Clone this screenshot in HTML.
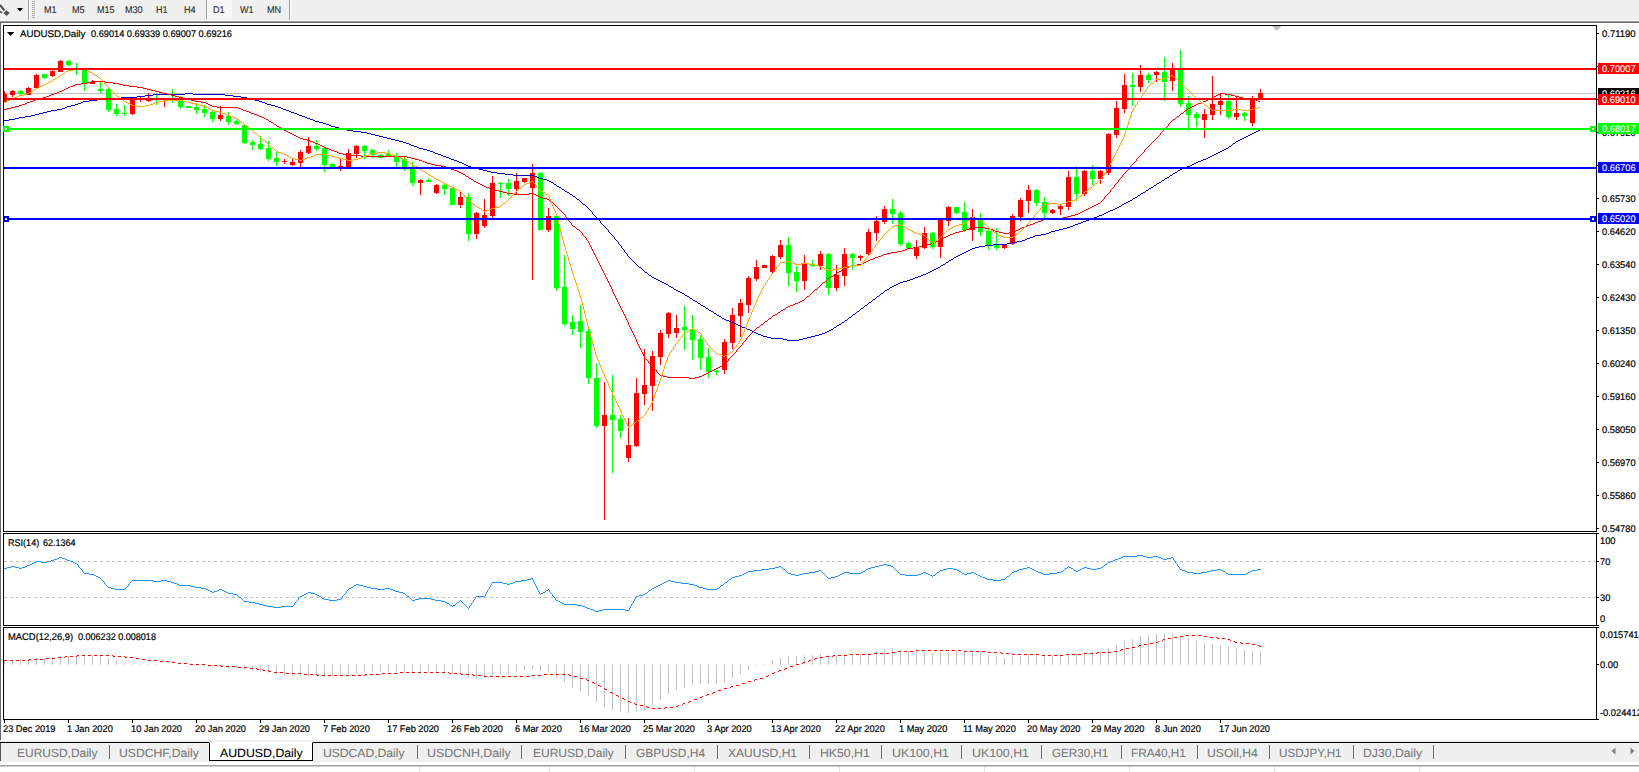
<!DOCTYPE html><html><head><meta charset="utf-8"><title>AUDUSD,Daily</title><style>
html,body{margin:0;padding:0}
body{text-rendering:geometricPrecision;width:1639px;height:772px;position:relative;overflow:hidden;background:#fff;font-family:"Liberation Sans",sans-serif;}
.t{position:absolute;white-space:pre;line-height:12px;height:12px;font-size:9.7px;color:#000;transform-origin:0 50%;-webkit-text-stroke:0.2px #000}
.tb{position:absolute;white-space:pre;line-height:12px;height:12px;font-size:9.7px;color:#303030;transform-origin:0 50%;transform:scaleX(0.935);-webkit-text-stroke:0.15px #303030}
.tab{position:absolute;white-space:pre;line-height:16px;height:16px;font-size:11.9px;color:#7a7a7a;top:745px;-webkit-text-stroke:0.12px #7a7a7a;transform-origin:0 50%}
.lab{position:absolute;left:1598px;width:41px;height:11px;line-height:11px;font-size:9.7px;color:#fff;white-space:pre}
.lab span{position:absolute;left:3.8px;top:1px;transform-origin:0 50%;transform:scaleX(0.96);-webkit-text-stroke:0.1px #fff}
.sep{position:absolute;width:1px;height:14px;top:745px;background:#6e6e6e}
div{box-sizing:border-box}

</style></head><body>
<div style="position:absolute;left:0;top:0;width:1639px;height:21px;background:#f0f0f0"></div>
<div style="position:absolute;left:0;top:20px;width:1639px;height:1px;background:#f7f7f7"></div>
<div style="position:absolute;left:0;top:21px;width:1639px;height:1px;background:#a2a2a2"></div>
<div style="position:absolute;left:0;top:22px;width:1639px;height:1px;background:#686868"></div>
<div style="position:absolute;left:0;top:23px;width:1px;height:717px;background:#696969"></div>
<div style="position:absolute;left:28px;top:0;width:1px;height:20px;background:#a0a0a0"></div>
<div style="position:absolute;left:29px;top:0;width:1px;height:20px;background:#fff"></div>
<div style="position:absolute;left:289px;top:0;width:1px;height:20px;background:#a0a0a0"></div>
<div style="position:absolute;left:290px;top:0;width:1px;height:20px;background:#fff"></div>
<div style="position:absolute;left:206px;top:0;width:26px;height:19px;background:#f7f7f7;border-left:1px solid #a0a0a0"></div>
<div class="tb" style="left:43.5px;top:5.1px">M1</div>
<div class="tb" style="left:71.5px;top:5.1px">M5</div>
<div class="tb" style="left:97.2px;top:5.1px">M15</div>
<div class="tb" style="left:125.3px;top:5.1px">M30</div>
<div class="tb" style="left:156.4px;top:5.1px">H1</div>
<div class="tb" style="left:183.5px;top:5.1px">H4</div>
<div class="tb" style="left:212.6px;top:5.1px">D1</div>
<div class="tb" style="left:240px;top:5.1px">W1</div>
<div class="tb" style="left:266.5px;top:5.1px">MN</div>
<svg style="position:absolute;left:0;top:0" width="40" height="21" shape-rendering="crispEdges">
<rect x="32" y="1" width="3" height="1" fill="#a8a8a8"/>
<rect x="32" y="3" width="3" height="1" fill="#a8a8a8"/>
<rect x="32" y="5" width="3" height="1" fill="#a8a8a8"/>
<rect x="32" y="7" width="3" height="1" fill="#a8a8a8"/>
<rect x="32" y="9" width="3" height="1" fill="#a8a8a8"/>
<rect x="32" y="11" width="3" height="1" fill="#a8a8a8"/>
<rect x="32" y="13" width="3" height="1" fill="#a8a8a8"/>
<rect x="32" y="15" width="3" height="1" fill="#a8a8a8"/>
<rect x="32" y="17" width="3" height="1" fill="#a8a8a8"/>
<polygon points="17,8 23,8 20,11.5" fill="#000" shape-rendering="auto"/>
<g shape-rendering="auto"><path d="M0 5 L4.5 10.5" stroke="#555" stroke-width="2.2" fill="none"/><path d="M0 11 L2 13" stroke="#555" stroke-width="1.6"/><polygon points="3.5,13 6.5,10.2 9.8,13 6.5,16" fill="#555"/></g>
</svg>
<svg style="position:absolute;left:0;top:0" width="1639" height="772" shape-rendering="crispEdges">
<defs><clipPath id="cm"><rect x="4" y="26" width="1592" height="505"/></clipPath></defs>
<rect x="3" y="25" width="1594" height="1" fill="#000"/>
<rect x="3" y="531" width="1594" height="1" fill="#000"/>
<rect x="3" y="25" width="1" height="507" fill="#000"/>
<rect x="1596" y="25" width="1" height="507" fill="#000"/>
<rect x="3" y="533" width="1594" height="1" fill="#000"/>
<rect x="3" y="625" width="1594" height="1" fill="#000"/>
<rect x="3" y="533" width="1" height="93" fill="#000"/>
<rect x="1596" y="533" width="1" height="93" fill="#000"/>
<rect x="3" y="627" width="1594" height="1" fill="#000"/>
<rect x="3" y="719" width="1594" height="1" fill="#000"/>
<rect x="3" y="627" width="1" height="93" fill="#000"/>
<rect x="1596" y="627" width="1" height="93" fill="#000"/>
<polygon points="1272,26 1281.5,26 1276.7,31" fill="#c0c0c0" shape-rendering="auto"/>
<g clip-path="url(#cm)">
<rect x="4" y="93" width="1592" height="1" fill="#c0c0c0"/>
<rect x="4" y="91" width="1" height="11" fill="#ff0000"/>
<rect x="2" y="94" width="5" height="8" fill="#ff0000"/>
<rect x="12" y="90" width="1" height="7" fill="#ff0000"/>
<rect x="10" y="91" width="5" height="4" fill="#ff0000"/>
<rect x="20" y="90" width="1" height="5" fill="#00ff00"/>
<rect x="18" y="91" width="5" height="3" fill="#00ff00"/>
<rect x="28" y="87" width="1" height="8" fill="#ff0000"/>
<rect x="26" y="88" width="5" height="7" fill="#ff0000"/>
<rect x="36" y="74" width="1" height="15" fill="#ff0000"/>
<rect x="34" y="75" width="5" height="13" fill="#ff0000"/>
<rect x="44" y="74" width="1" height="5" fill="#00ff00"/>
<rect x="42" y="74" width="5" height="4" fill="#00ff00"/>
<rect x="52" y="70" width="1" height="7" fill="#ff0000"/>
<rect x="50" y="71" width="5" height="5" fill="#ff0000"/>
<rect x="60" y="60" width="1" height="12" fill="#ff0000"/>
<rect x="58" y="61" width="5" height="11" fill="#ff0000"/>
<rect x="68" y="60" width="1" height="6" fill="#00ff00"/>
<rect x="66" y="61" width="5" height="4" fill="#00ff00"/>
<rect x="76" y="63" width="1" height="12" fill="#00ff00"/>
<rect x="74" y="68" width="5" height="1" fill="#00ff00"/>
<rect x="84" y="68" width="1" height="23" fill="#00ff00"/>
<rect x="82" y="70" width="5" height="13" fill="#00ff00"/>
<rect x="92" y="80" width="1" height="4" fill="#ff0000"/>
<rect x="90" y="82" width="5" height="2" fill="#ff0000"/>
<rect x="100" y="82" width="1" height="11" fill="#00ff00"/>
<rect x="98" y="89" width="5" height="2" fill="#00ff00"/>
<rect x="108" y="87" width="1" height="25" fill="#00ff00"/>
<rect x="106" y="89" width="5" height="21" fill="#00ff00"/>
<rect x="116" y="104" width="1" height="12" fill="#00ff00"/>
<rect x="114" y="109" width="5" height="5" fill="#00ff00"/>
<rect x="124" y="105" width="1" height="11" fill="#00ff00"/>
<rect x="122" y="113" width="5" height="1" fill="#00ff00"/>
<rect x="132" y="97" width="1" height="18" fill="#ff0000"/>
<rect x="130" y="100" width="5" height="14" fill="#ff0000"/>
<rect x="140" y="97" width="1" height="5" fill="#ff0000"/>
<rect x="138" y="98" width="5" height="1" fill="#ff0000"/>
<rect x="148" y="93" width="1" height="9" fill="#ff0000"/>
<rect x="146" y="99" width="5" height="2" fill="#ff0000"/>
<rect x="156" y="95" width="1" height="10" fill="#00ff00"/>
<rect x="154" y="98" width="5" height="1" fill="#00ff00"/>
<rect x="164" y="99" width="1" height="8" fill="#ff0000"/>
<rect x="162" y="99" width="5" height="1" fill="#ff0000"/>
<rect x="172" y="89" width="1" height="14" fill="#00ff00"/>
<rect x="170" y="100" width="5" height="1" fill="#00ff00"/>
<rect x="180" y="96" width="1" height="13" fill="#00ff00"/>
<rect x="178" y="100" width="5" height="7" fill="#00ff00"/>
<rect x="188" y="106" width="1" height="2" fill="#00ff00"/>
<rect x="186" y="106" width="5" height="2" fill="#00ff00"/>
<rect x="196" y="103" width="1" height="11" fill="#00ff00"/>
<rect x="194" y="107" width="5" height="3" fill="#00ff00"/>
<rect x="204" y="105" width="1" height="12" fill="#00ff00"/>
<rect x="202" y="109" width="5" height="4" fill="#00ff00"/>
<rect x="212" y="111" width="1" height="11" fill="#00ff00"/>
<rect x="210" y="112" width="5" height="7" fill="#00ff00"/>
<rect x="220" y="106" width="1" height="15" fill="#ff0000"/>
<rect x="218" y="115" width="5" height="4" fill="#ff0000"/>
<rect x="228" y="112" width="1" height="13" fill="#00ff00"/>
<rect x="226" y="116" width="5" height="6" fill="#00ff00"/>
<rect x="236" y="120" width="1" height="5" fill="#00ff00"/>
<rect x="234" y="121" width="5" height="3" fill="#00ff00"/>
<rect x="244" y="124" width="1" height="20" fill="#00ff00"/>
<rect x="242" y="125" width="5" height="18" fill="#00ff00"/>
<rect x="252" y="140" width="1" height="10" fill="#00ff00"/>
<rect x="250" y="142" width="5" height="3" fill="#00ff00"/>
<rect x="260" y="136" width="1" height="14" fill="#00ff00"/>
<rect x="258" y="144" width="5" height="5" fill="#00ff00"/>
<rect x="268" y="141" width="1" height="20" fill="#00ff00"/>
<rect x="266" y="148" width="5" height="11" fill="#00ff00"/>
<rect x="276" y="151" width="1" height="15" fill="#00ff00"/>
<rect x="274" y="158" width="5" height="4" fill="#00ff00"/>
<rect x="284" y="159" width="1" height="5" fill="#ff0000"/>
<rect x="282" y="161" width="5" height="1" fill="#ff0000"/>
<rect x="292" y="159" width="1" height="7" fill="#ff0000"/>
<rect x="290" y="162" width="5" height="3" fill="#ff0000"/>
<rect x="300" y="150" width="1" height="17" fill="#ff0000"/>
<rect x="298" y="152" width="5" height="11" fill="#ff0000"/>
<rect x="308" y="137" width="1" height="17" fill="#ff0000"/>
<rect x="306" y="146" width="5" height="7" fill="#ff0000"/>
<rect x="316" y="140" width="1" height="11" fill="#00ff00"/>
<rect x="314" y="146" width="5" height="3" fill="#00ff00"/>
<rect x="324" y="146" width="1" height="26" fill="#00ff00"/>
<rect x="322" y="148" width="5" height="17" fill="#00ff00"/>
<rect x="332" y="163" width="1" height="5" fill="#00ff00"/>
<rect x="330" y="164" width="5" height="4" fill="#00ff00"/>
<rect x="340" y="159" width="1" height="12" fill="#ff0000"/>
<rect x="338" y="166" width="5" height="1" fill="#ff0000"/>
<rect x="348" y="149" width="1" height="19" fill="#ff0000"/>
<rect x="346" y="153" width="5" height="14" fill="#ff0000"/>
<rect x="356" y="145" width="1" height="13" fill="#ff0000"/>
<rect x="354" y="146" width="5" height="8" fill="#ff0000"/>
<rect x="364" y="145" width="1" height="14" fill="#00ff00"/>
<rect x="362" y="146" width="5" height="5" fill="#00ff00"/>
<rect x="372" y="149" width="1" height="9" fill="#00ff00"/>
<rect x="370" y="150" width="5" height="5" fill="#00ff00"/>
<rect x="380" y="154" width="1" height="4" fill="#00ff00"/>
<rect x="378" y="155" width="5" height="3" fill="#00ff00"/>
<rect x="388" y="150" width="1" height="7" fill="#00ff00"/>
<rect x="386" y="154" width="5" height="2" fill="#00ff00"/>
<rect x="396" y="153" width="1" height="14" fill="#00ff00"/>
<rect x="394" y="156" width="5" height="6" fill="#00ff00"/>
<rect x="404" y="157" width="1" height="14" fill="#00ff00"/>
<rect x="402" y="159" width="5" height="8" fill="#00ff00"/>
<rect x="412" y="162" width="1" height="24" fill="#00ff00"/>
<rect x="410" y="167" width="5" height="16" fill="#00ff00"/>
<rect x="420" y="179" width="1" height="16" fill="#ff0000"/>
<rect x="418" y="180" width="5" height="3" fill="#ff0000"/>
<rect x="428" y="178" width="1" height="4" fill="#00ff00"/>
<rect x="426" y="180" width="5" height="2" fill="#00ff00"/>
<rect x="436" y="184" width="1" height="10" fill="#ff0000"/>
<rect x="434" y="185" width="5" height="8" fill="#ff0000"/>
<rect x="444" y="184" width="1" height="11" fill="#00ff00"/>
<rect x="442" y="185" width="5" height="4" fill="#00ff00"/>
<rect x="452" y="187" width="1" height="18" fill="#00ff00"/>
<rect x="450" y="188" width="5" height="17" fill="#00ff00"/>
<rect x="460" y="192" width="1" height="16" fill="#ff0000"/>
<rect x="458" y="197" width="5" height="8" fill="#ff0000"/>
<rect x="468" y="193" width="1" height="48" fill="#00ff00"/>
<rect x="466" y="197" width="5" height="37" fill="#00ff00"/>
<rect x="476" y="212" width="1" height="27" fill="#ff0000"/>
<rect x="474" y="213" width="5" height="21" fill="#ff0000"/>
<rect x="484" y="199" width="1" height="29" fill="#ff0000"/>
<rect x="482" y="215" width="5" height="11" fill="#ff0000"/>
<rect x="492" y="176" width="1" height="42" fill="#ff0000"/>
<rect x="490" y="183" width="5" height="33" fill="#ff0000"/>
<rect x="500" y="182" width="1" height="16" fill="#00ff00"/>
<rect x="498" y="183" width="5" height="1" fill="#00ff00"/>
<rect x="508" y="179" width="1" height="17" fill="#00ff00"/>
<rect x="506" y="183" width="5" height="6" fill="#00ff00"/>
<rect x="516" y="173" width="1" height="21" fill="#ff0000"/>
<rect x="514" y="181" width="5" height="8" fill="#ff0000"/>
<rect x="524" y="178" width="1" height="5" fill="#ff0000"/>
<rect x="522" y="178" width="5" height="4" fill="#ff0000"/>
<rect x="532" y="164" width="1" height="116" fill="#ff0000"/>
<rect x="530" y="173" width="5" height="15" fill="#ff0000"/>
<rect x="540" y="172" width="1" height="58" fill="#00ff00"/>
<rect x="538" y="173" width="5" height="57" fill="#00ff00"/>
<rect x="548" y="208" width="1" height="24" fill="#ff0000"/>
<rect x="546" y="216" width="5" height="14" fill="#ff0000"/>
<rect x="556" y="214" width="1" height="77" fill="#00ff00"/>
<rect x="554" y="216" width="5" height="72" fill="#00ff00"/>
<rect x="564" y="255" width="1" height="71" fill="#00ff00"/>
<rect x="562" y="287" width="5" height="37" fill="#00ff00"/>
<rect x="572" y="315" width="1" height="20" fill="#00ff00"/>
<rect x="570" y="322" width="5" height="7" fill="#00ff00"/>
<rect x="580" y="305" width="1" height="43" fill="#00ff00"/>
<rect x="578" y="321" width="5" height="11" fill="#00ff00"/>
<rect x="588" y="326" width="1" height="58" fill="#00ff00"/>
<rect x="586" y="331" width="5" height="47" fill="#00ff00"/>
<rect x="596" y="363" width="1" height="65" fill="#00ff00"/>
<rect x="594" y="378" width="5" height="48" fill="#00ff00"/>
<rect x="604" y="382" width="1" height="138" fill="#ff0000"/>
<rect x="602" y="415" width="5" height="11" fill="#ff0000"/>
<rect x="612" y="375" width="1" height="98" fill="#00ff00"/>
<rect x="610" y="415" width="5" height="5" fill="#00ff00"/>
<rect x="620" y="415" width="1" height="23" fill="#00ff00"/>
<rect x="618" y="419" width="5" height="12" fill="#00ff00"/>
<rect x="628" y="418" width="1" height="44" fill="#ff0000"/>
<rect x="626" y="445" width="5" height="13" fill="#ff0000"/>
<rect x="636" y="378" width="1" height="69" fill="#ff0000"/>
<rect x="634" y="393" width="5" height="53" fill="#ff0000"/>
<rect x="644" y="349" width="1" height="56" fill="#ff0000"/>
<rect x="642" y="385" width="5" height="9" fill="#ff0000"/>
<rect x="652" y="351" width="1" height="60" fill="#ff0000"/>
<rect x="650" y="356" width="5" height="30" fill="#ff0000"/>
<rect x="660" y="330" width="1" height="35" fill="#ff0000"/>
<rect x="658" y="333" width="5" height="24" fill="#ff0000"/>
<rect x="668" y="312" width="1" height="26" fill="#ff0000"/>
<rect x="666" y="313" width="5" height="21" fill="#ff0000"/>
<rect x="676" y="315" width="1" height="23" fill="#ff0000"/>
<rect x="674" y="328" width="5" height="5" fill="#ff0000"/>
<rect x="684" y="306" width="1" height="44" fill="#00ff00"/>
<rect x="682" y="327" width="5" height="3" fill="#00ff00"/>
<rect x="692" y="315" width="1" height="45" fill="#00ff00"/>
<rect x="690" y="329" width="5" height="11" fill="#00ff00"/>
<rect x="700" y="335" width="1" height="35" fill="#00ff00"/>
<rect x="698" y="339" width="5" height="19" fill="#00ff00"/>
<rect x="708" y="348" width="1" height="30" fill="#00ff00"/>
<rect x="706" y="357" width="5" height="15" fill="#00ff00"/>
<rect x="716" y="370" width="1" height="5" fill="#00ff00"/>
<rect x="714" y="371" width="5" height="1" fill="#00ff00"/>
<rect x="724" y="339" width="1" height="35" fill="#ff0000"/>
<rect x="722" y="342" width="5" height="28" fill="#ff0000"/>
<rect x="732" y="308" width="1" height="41" fill="#ff0000"/>
<rect x="730" y="315" width="5" height="28" fill="#ff0000"/>
<rect x="740" y="299" width="1" height="38" fill="#ff0000"/>
<rect x="738" y="303" width="5" height="13" fill="#ff0000"/>
<rect x="748" y="276" width="1" height="37" fill="#ff0000"/>
<rect x="746" y="278" width="5" height="27" fill="#ff0000"/>
<rect x="756" y="260" width="1" height="21" fill="#ff0000"/>
<rect x="754" y="267" width="5" height="12" fill="#ff0000"/>
<rect x="764" y="265" width="1" height="3" fill="#ff0000"/>
<rect x="762" y="265" width="5" height="3" fill="#ff0000"/>
<rect x="772" y="255" width="1" height="18" fill="#ff0000"/>
<rect x="770" y="256" width="5" height="16" fill="#ff0000"/>
<rect x="780" y="240" width="1" height="19" fill="#ff0000"/>
<rect x="778" y="245" width="5" height="12" fill="#ff0000"/>
<rect x="788" y="237" width="1" height="49" fill="#00ff00"/>
<rect x="786" y="245" width="5" height="28" fill="#00ff00"/>
<rect x="796" y="266" width="1" height="26" fill="#00ff00"/>
<rect x="794" y="272" width="5" height="9" fill="#00ff00"/>
<rect x="804" y="255" width="1" height="35" fill="#ff0000"/>
<rect x="802" y="263" width="5" height="18" fill="#ff0000"/>
<rect x="812" y="260" width="1" height="7" fill="#00ff00"/>
<rect x="810" y="265" width="5" height="1" fill="#00ff00"/>
<rect x="820" y="251" width="1" height="19" fill="#ff0000"/>
<rect x="818" y="254" width="5" height="12" fill="#ff0000"/>
<rect x="828" y="253" width="1" height="42" fill="#00ff00"/>
<rect x="826" y="254" width="5" height="34" fill="#00ff00"/>
<rect x="836" y="265" width="1" height="26" fill="#ff0000"/>
<rect x="834" y="275" width="5" height="13" fill="#ff0000"/>
<rect x="844" y="248" width="1" height="38" fill="#ff0000"/>
<rect x="842" y="254" width="5" height="22" fill="#ff0000"/>
<rect x="852" y="253" width="1" height="17" fill="#00ff00"/>
<rect x="850" y="254" width="5" height="4" fill="#00ff00"/>
<rect x="860" y="255" width="1" height="6" fill="#ff0000"/>
<rect x="858" y="256" width="5" height="2" fill="#ff0000"/>
<rect x="868" y="229" width="1" height="26" fill="#ff0000"/>
<rect x="866" y="232" width="5" height="22" fill="#ff0000"/>
<rect x="876" y="216" width="1" height="25" fill="#ff0000"/>
<rect x="874" y="221" width="5" height="12" fill="#ff0000"/>
<rect x="884" y="206" width="1" height="18" fill="#ff0000"/>
<rect x="882" y="209" width="5" height="13" fill="#ff0000"/>
<rect x="892" y="199" width="1" height="25" fill="#00ff00"/>
<rect x="890" y="209" width="5" height="5" fill="#00ff00"/>
<rect x="900" y="211" width="1" height="35" fill="#00ff00"/>
<rect x="898" y="213" width="5" height="31" fill="#00ff00"/>
<rect x="908" y="242" width="1" height="6" fill="#00ff00"/>
<rect x="906" y="243" width="5" height="5" fill="#00ff00"/>
<rect x="916" y="240" width="1" height="19" fill="#ff0000"/>
<rect x="914" y="247" width="5" height="9" fill="#ff0000"/>
<rect x="924" y="227" width="1" height="22" fill="#ff0000"/>
<rect x="922" y="233" width="5" height="15" fill="#ff0000"/>
<rect x="932" y="232" width="1" height="17" fill="#00ff00"/>
<rect x="930" y="233" width="5" height="14" fill="#00ff00"/>
<rect x="940" y="219" width="1" height="39" fill="#ff0000"/>
<rect x="938" y="220" width="5" height="27" fill="#ff0000"/>
<rect x="948" y="206" width="1" height="20" fill="#ff0000"/>
<rect x="946" y="207" width="5" height="14" fill="#ff0000"/>
<rect x="956" y="207" width="1" height="7" fill="#00ff00"/>
<rect x="954" y="207" width="5" height="6" fill="#00ff00"/>
<rect x="964" y="202" width="1" height="30" fill="#00ff00"/>
<rect x="962" y="212" width="5" height="18" fill="#00ff00"/>
<rect x="972" y="209" width="1" height="32" fill="#ff0000"/>
<rect x="970" y="217" width="5" height="13" fill="#ff0000"/>
<rect x="980" y="213" width="1" height="23" fill="#00ff00"/>
<rect x="978" y="220" width="5" height="12" fill="#00ff00"/>
<rect x="988" y="229" width="1" height="21" fill="#00ff00"/>
<rect x="986" y="231" width="5" height="14" fill="#00ff00"/>
<rect x="996" y="228" width="1" height="22" fill="#00ff00"/>
<rect x="994" y="244" width="5" height="4" fill="#00ff00"/>
<rect x="1004" y="245" width="1" height="4" fill="#ff0000"/>
<rect x="1002" y="245" width="5" height="3" fill="#ff0000"/>
<rect x="1012" y="214" width="1" height="31" fill="#ff0000"/>
<rect x="1010" y="216" width="5" height="28" fill="#ff0000"/>
<rect x="1020" y="198" width="1" height="23" fill="#ff0000"/>
<rect x="1018" y="200" width="5" height="17" fill="#ff0000"/>
<rect x="1028" y="185" width="1" height="28" fill="#ff0000"/>
<rect x="1026" y="190" width="5" height="11" fill="#ff0000"/>
<rect x="1036" y="189" width="1" height="17" fill="#00ff00"/>
<rect x="1034" y="190" width="5" height="13" fill="#00ff00"/>
<rect x="1044" y="197" width="1" height="21" fill="#00ff00"/>
<rect x="1042" y="202" width="5" height="11" fill="#00ff00"/>
<rect x="1052" y="209" width="1" height="5" fill="#ff0000"/>
<rect x="1050" y="210" width="5" height="3" fill="#ff0000"/>
<rect x="1060" y="205" width="1" height="10" fill="#ff0000"/>
<rect x="1058" y="206" width="5" height="3" fill="#ff0000"/>
<rect x="1068" y="171" width="1" height="39" fill="#ff0000"/>
<rect x="1066" y="177" width="5" height="30" fill="#ff0000"/>
<rect x="1076" y="166" width="1" height="35" fill="#00ff00"/>
<rect x="1074" y="177" width="5" height="17" fill="#00ff00"/>
<rect x="1084" y="170" width="1" height="26" fill="#ff0000"/>
<rect x="1082" y="171" width="5" height="23" fill="#ff0000"/>
<rect x="1092" y="165" width="1" height="20" fill="#00ff00"/>
<rect x="1090" y="171" width="5" height="8" fill="#00ff00"/>
<rect x="1100" y="170" width="1" height="14" fill="#ff0000"/>
<rect x="1098" y="171" width="5" height="8" fill="#ff0000"/>
<rect x="1108" y="133" width="1" height="42" fill="#ff0000"/>
<rect x="1106" y="134" width="5" height="39" fill="#ff0000"/>
<rect x="1116" y="101" width="1" height="37" fill="#ff0000"/>
<rect x="1114" y="108" width="5" height="27" fill="#ff0000"/>
<rect x="1124" y="74" width="1" height="39" fill="#ff0000"/>
<rect x="1122" y="85" width="5" height="24" fill="#ff0000"/>
<rect x="1132" y="73" width="1" height="33" fill="#00ff00"/>
<rect x="1130" y="85" width="5" height="2" fill="#00ff00"/>
<rect x="1140" y="65" width="1" height="27" fill="#ff0000"/>
<rect x="1138" y="75" width="5" height="12" fill="#ff0000"/>
<rect x="1148" y="73" width="1" height="10" fill="#00ff00"/>
<rect x="1146" y="75" width="5" height="5" fill="#00ff00"/>
<rect x="1156" y="71" width="1" height="11" fill="#ff0000"/>
<rect x="1154" y="72" width="5" height="3" fill="#ff0000"/>
<rect x="1164" y="57" width="1" height="44" fill="#00ff00"/>
<rect x="1162" y="72" width="5" height="10" fill="#00ff00"/>
<rect x="1172" y="63" width="1" height="28" fill="#ff0000"/>
<rect x="1170" y="70" width="5" height="11" fill="#ff0000"/>
<rect x="1180" y="50" width="1" height="57" fill="#00ff00"/>
<rect x="1178" y="70" width="5" height="34" fill="#00ff00"/>
<rect x="1188" y="96" width="1" height="35" fill="#00ff00"/>
<rect x="1186" y="103" width="5" height="12" fill="#00ff00"/>
<rect x="1196" y="112" width="1" height="15" fill="#00ff00"/>
<rect x="1194" y="114" width="5" height="4" fill="#00ff00"/>
<rect x="1204" y="109" width="1" height="29" fill="#ff0000"/>
<rect x="1202" y="114" width="5" height="6" fill="#ff0000"/>
<rect x="1212" y="76" width="1" height="44" fill="#ff0000"/>
<rect x="1210" y="104" width="5" height="11" fill="#ff0000"/>
<rect x="1220" y="94" width="1" height="21" fill="#ff0000"/>
<rect x="1218" y="101" width="5" height="4" fill="#ff0000"/>
<rect x="1228" y="95" width="1" height="24" fill="#00ff00"/>
<rect x="1226" y="101" width="5" height="16" fill="#00ff00"/>
<rect x="1236" y="97" width="1" height="23" fill="#ff0000"/>
<rect x="1234" y="113" width="5" height="4" fill="#ff0000"/>
<rect x="1244" y="112" width="1" height="9" fill="#00ff00"/>
<rect x="1242" y="113" width="5" height="3" fill="#00ff00"/>
<rect x="1252" y="96" width="1" height="30" fill="#ff0000"/>
<rect x="1250" y="99" width="5" height="24" fill="#ff0000"/>
<rect x="1260" y="89" width="1" height="10" fill="#ff0000"/>
<rect x="1258" y="93" width="5" height="6" fill="#ff0000"/>
<path d="M4 120.5h5M9 119.5h6M15 118.5h4M19 117.5h6M25 116.5h6M31 115.5h4M35 114.5h4M39 113.5h4M43 112.5h4M47 111.5h4M51 110.5h6M57 109.5h5M62 108.5h3M65 107.5h2M67 106.5h4M71 105.5h4M75 104.5h3M78 103.5h3M81 102.5h2M83 101.5h6M89 100.5h8M97 99.5h8M105 98.5h16M121 97.5h16M137 96.5h8M145 95.5h8M153 94.5h32M185 93.5h8M193 94.5h32M225 95.5h8M233 96.5h8M241 97.5h6M247 98.5h4M251 99.5h4M255 100.5h4M259 101.5h3M262 102.5h3M265 103.5h2M267 104.5h4M271 105.5h4M275 106.5h3M278 107.5h3M281 108.5h2M283 109.5h3M286 110.5h3M289 111.5h2M291 112.5h3M294 113.5h3M297 114.5h2M299 115.5h3M302 116.5h3M305 117.5h2M307 118.5h3M310 119.5h3M313 120.5h2M315 121.5h4M319 122.5h4M323 123.5h3M326 124.5h3M329 125.5h2M331 126.5h4M335 127.5h4M339 128.5h4M343 129.5h4M347 130.5h6M353 131.5h8M361 132.5h6M367 133.5h4M371 134.5h4M375 135.5h4M379 136.5h4M383 137.5h4M387 138.5h4M391 139.5h4M395 140.5h4M399 141.5h4M403 142.5h3M406 143.5h3M409 144.5h2M411 145.5h3M414 146.5h3M417 147.5h2M419 148.5h4M423 149.5h4M427 150.5h3M430 151.5h3M433 152.5h2M435 153.5h3M438 154.5h3M441 155.5h2M443 156.5h3M446 157.5h3M449 158.5h2M451 159.5h3M454 160.5h3M457 161.5h2M459 162.5h3M462 163.5h2M464 164.5h2M466 165.5h2M468 166.5h3M471 167.5h4M475 168.5h4M479 169.5h4M483 170.5h4M487 171.5h4M491 172.5h6M497 173.5h8M505 174.5h8M513 175.5h21M534 176.5h3M537 177.5h2M539 178.5h4M543 179.5h4M547 180.5h2M549 181.5h2M551 182.5h2M553 183.5h1M554 184.5h2M556 185.5h1M557 186.5h2M559 187.5h2M561 188.5h1M562 189.5h2M564 190.5h1M565 191.5h2M567 192.5h2M569 193.5h1M570 194.5h2M572 195.5h1M573 196.5h2M575 197.5h1M576 198.5h1M577 199.5h2M579 200.5h1M580 201.5h1M581 202.5h1M582 203.5h1M583 204.5h2M585 205.5h1M586 206.5h1M587 207.5h1M588 208.5h1M589 209.5h1M590 210.5h1M591 211.5h1M592.5 212v2M593 214.5h1M594 215.5h1M595 216.5h1M596 217.5h1M597 218.5h1M598 219.5h1M599 220.5h1M600.5 221v2M601 223.5h1M602 224.5h1M603 225.5h1M604 226.5h1M605 227.5h1M606 228.5h1M607 229.5h1M608.5 230v2M609 232.5h1M610 233.5h1M611 234.5h1M612 235.5h1M613 236.5h1M614.5 237v2M615 239.5h1M616 240.5h1M617 241.5h1M618.5 242v2M619 244.5h1M620 245.5h1M621.5 246v2M622 248.5h1M623 249.5h1M624.5 250v2M625 252.5h1M626 253.5h1M627.5 254v2M628 256.5h1M629 257.5h1M630 258.5h1M631 259.5h1M632 260.5h1M633 261.5h1M634 262.5h1M635 263.5h1M636 264.5h1M637 265.5h1M638 266.5h1M639 267.5h2M641 268.5h1M642 269.5h1M643 270.5h1M644 271.5h1M645 272.5h2M647 273.5h1M648 274.5h1M649 275.5h2M651 276.5h1M652 277.5h2M654 278.5h2M656 279.5h2M658 280.5h2M660 281.5h2M662 282.5h2M664 283.5h2M666 284.5h2M668 285.5h1M669 286.5h2M671 287.5h2M673 288.5h1M674 289.5h2M676 290.5h2M678 291.5h2M680 292.5h2M682 293.5h2M684 294.5h1M685 295.5h2M687 296.5h2M689 297.5h1M690 298.5h2M692 299.5h1M693 300.5h2M695 301.5h2M697 302.5h1M698 303.5h2M700 304.5h1M701 305.5h2M703 306.5h2M705 307.5h1M706 308.5h2M708 309.5h1M709 310.5h2M711 311.5h2M713 312.5h1M714 313.5h2M716 314.5h1M717 315.5h2M719 316.5h2M721 317.5h1M722 318.5h2M724 319.5h2M726 320.5h3M729 321.5h2M731 322.5h3M734 323.5h2M736 324.5h2M738 325.5h2M740 326.5h2M742 327.5h3M745 328.5h2M747 329.5h3M750 330.5h2M752 331.5h2M754 332.5h2M756 333.5h2M758 334.5h3M761 335.5h2M763 336.5h4M767 337.5h4M771 338.5h12M783 339.5h4M787 340.5h12M799 339.5h4M803 338.5h4M807 337.5h4M811 336.5h4M815 335.5h4M819 334.5h3M822 333.5h3M825 332.5h2M827 331.5h2M829 330.5h2M831 329.5h2M833 328.5h1M834 327.5h2M836 326.5h1M837 325.5h2M839 324.5h2M841 323.5h1M842 322.5h2M844 321.5h1M845 320.5h2M847 319.5h1M848 318.5h1M849 317.5h2M851 316.5h1M852 315.5h1M853 314.5h2M855 313.5h1M856 312.5h1M857 311.5h2M859 310.5h1M860 309.5h1M861 308.5h2M863 307.5h1M864 306.5h1M865 305.5h2M867 304.5h1M868 303.5h1M869 302.5h2M871 301.5h1M872 300.5h1M873 299.5h2M875 298.5h1M876 297.5h1M877 296.5h2M879 295.5h1M880 294.5h1M881 293.5h2M883 292.5h1M884 291.5h1M885 290.5h2M887 289.5h2M889 288.5h1M890 287.5h2M892 286.5h2M894 285.5h2M896 284.5h2M898 283.5h2M900 282.5h3M903 281.5h4M907 280.5h3M910 279.5h3M913 278.5h2M915 277.5h3M918 276.5h3M921 275.5h2M923 274.5h3M926 273.5h2M928 272.5h2M930 271.5h2M932 270.5h2M934 269.5h2M936 268.5h2M938 267.5h2M940 266.5h1M941 265.5h2M943 264.5h2M945 263.5h1M946 262.5h2M948 261.5h1M949 260.5h2M951 259.5h2M953 258.5h1M954 257.5h2M956 256.5h2M958 255.5h2M960 254.5h2M962 253.5h2M964 252.5h2M966 251.5h2M968 250.5h2M970 249.5h2M972 248.5h3M975 247.5h4M979 246.5h6M985 245.5h8M993 244.5h14M1007 243.5h4M1011 242.5h6M1017 241.5h5M1022 240.5h3M1025 239.5h2M1027 238.5h3M1030 237.5h3M1033 236.5h2M1035 235.5h6M1041 234.5h5M1046 233.5h3M1049 232.5h2M1051 231.5h4M1055 230.5h4M1059 229.5h4M1063 228.5h4M1067 227.5h3M1070 226.5h3M1073 225.5h2M1075 224.5h3M1078 223.5h3M1081 222.5h2M1083 221.5h3M1086 220.5h3M1089 219.5h2M1091 218.5h3M1094 217.5h3M1097 216.5h2M1099 215.5h3M1102 214.5h2M1104 213.5h2M1106 212.5h2M1108 211.5h2M1110 210.5h3M1113 209.5h2M1115 208.5h2M1117 207.5h2M1119 206.5h2M1121 205.5h1M1122 204.5h2M1124 203.5h2M1126 202.5h2M1128 201.5h2M1130 200.5h2M1132 199.5h1M1133 198.5h2M1135 197.5h2M1137 196.5h1M1138 195.5h2M1140 194.5h1M1141 193.5h2M1143 192.5h2M1145 191.5h1M1146 190.5h2M1148 189.5h1M1149 188.5h2M1151 187.5h2M1153 186.5h1M1154 185.5h2M1156 184.5h1M1157 183.5h2M1159 182.5h2M1161 181.5h1M1162 180.5h2M1164 179.5h1M1165 178.5h2M1167 177.5h2M1169 176.5h1M1170 175.5h2M1172 174.5h1M1173 173.5h2M1175 172.5h2M1177 171.5h1M1178 170.5h2M1180 169.5h2M1182 168.5h3M1185 167.5h2M1187 166.5h3M1190 165.5h2M1192 164.5h2M1194 163.5h2M1196 162.5h2M1198 161.5h3M1201 160.5h2M1203 159.5h3M1206 158.5h2M1208 157.5h2M1210 156.5h2M1212 155.5h2M1214 154.5h2M1216 153.5h2M1218 152.5h2M1220 151.5h2M1222 150.5h2M1224 149.5h2M1226 148.5h2M1228 147.5h1M1229 146.5h2M1231 145.5h1M1232 144.5h1M1233 143.5h2M1235 142.5h1M1236 141.5h2M1238 140.5h2M1240 139.5h2M1242 138.5h2M1244 137.5h2M1246 136.5h2M1248 135.5h2M1250 134.5h2M1252 133.5h2M1254 132.5h2M1256 131.5h2M1258 130.5h2" fill="none" stroke="#0000cd" stroke-width="1"/>
<path d="M4 109.5h3M7 108.5h4M11 107.5h4M15 106.5h4M19 105.5h3M22 104.5h3M25 103.5h2M27 102.5h3M30 101.5h3M33 100.5h2M35 99.5h4M39 98.5h4M43 97.5h3M46 96.5h3M49 95.5h2M51 94.5h3M54 93.5h3M57 92.5h2M59 91.5h3M62 90.5h2M64 89.5h2M66 88.5h2M68 87.5h2M70 86.5h3M73 85.5h2M75 84.5h6M81 83.5h6M87 82.5h4M91 81.5h14M105 82.5h8M113 83.5h6M119 84.5h4M123 85.5h6M129 86.5h8M137 87.5h6M143 88.5h4M147 89.5h4M151 90.5h4M155 91.5h4M159 92.5h4M163 93.5h4M167 94.5h4M171 95.5h4M175 96.5h4M179 97.5h4M183 98.5h4M187 99.5h4M191 100.5h4M195 101.5h6M201 102.5h5M206 103.5h2M208 104.5h2M210 105.5h2M212 106.5h5M217 107.5h21M238 108.5h3M241 109.5h2M243 110.5h3M246 111.5h3M249 112.5h2M251 113.5h3M254 114.5h3M257 115.5h2M259 116.5h3M262 117.5h2M264 118.5h2M266 119.5h2M268 120.5h1M269 121.5h2M271 122.5h2M273 123.5h1M274 124.5h2M276 125.5h1M277 126.5h2M279 127.5h2M281 128.5h1M282 129.5h2M284 130.5h2M286 131.5h2M288 132.5h2M290 133.5h2M292 134.5h2M294 135.5h2M296 136.5h2M298 137.5h2M300 138.5h3M303 139.5h4M307 140.5h3M310 141.5h3M313 142.5h2M315 143.5h3M318 144.5h2M320 145.5h2M322 146.5h2M324 147.5h2M326 148.5h3M329 149.5h2M331 150.5h3M334 151.5h3M337 152.5h2M339 153.5h4M343 154.5h4M347 155.5h14M361 156.5h46M407 157.5h4M411 158.5h4M415 159.5h4M419 160.5h3M422 161.5h3M425 162.5h2M427 163.5h4M431 164.5h4M435 165.5h6M441 166.5h5M446 167.5h3M449 168.5h2M451 169.5h3M454 170.5h3M457 171.5h2M459 172.5h2M461 173.5h2M463 174.5h2M465 175.5h1M466 176.5h2M468 177.5h1M469 178.5h2M471 179.5h2M473 180.5h1M474 181.5h2M476 182.5h2M478 183.5h2M480 184.5h2M482 185.5h2M484 186.5h2M486 187.5h3M489 188.5h2M491 189.5h4M495 190.5h4M499 191.5h4M503 192.5h4M507 193.5h6M513 194.5h16M529 193.5h5M534 194.5h2M536 195.5h2M538 196.5h2M540 197.5h3M543 198.5h4M547 199.5h2M549 200.5h1M550 201.5h1M551 202.5h2M553 203.5h1M554 204.5h1M555 205.5h1M556 206.5h1M557 207.5h1M558 208.5h1M559 209.5h1M560 210.5h1M561 211.5h1M562 212.5h1M563 213.5h1M564 214.5h1M565.5 215v2M566 217.5h1M567 218.5h1M568.5 219v2M569 221.5h1M570 222.5h1M571.5 223v2M572 225.5h1M573 226.5h2M575 227.5h1M576 228.5h1M577 229.5h2M579 230.5h1M580 231.5h1M581 232.5h1M582.5 233v2M583 235.5h1M584 236.5h1M585 237.5h1M586.5 238v2M587 240.5h1M588.5 241v2M589.5 243v2M590.5 245v2M591.5 247v2M592.5 249v2M593.5 251v2M594.5 253v2M595.5 255v2M596.5 257v2M597.5 259v2M598.5 261v2M599.5 263v2M600.5 265v2M601.5 267v2M602.5 269v2M603.5 271v2M604.5 273v2M605.5 275v2M606.5 277v2M607.5 279v2M608.5 281v2M609.5 283v2M610.5 285v2M611.5 287v2M612.5 289v3M613.5 292v2M614.5 294v2M615.5 296v2M616.5 298v2M617.5 300v2M618.5 302v2M619.5 304v2M620.5 306v2M621.5 308v2M622.5 310v2M623.5 312v2M624.5 314v2M625.5 316v2M626.5 318v2M627.5 320v2M628.5 322v3M629.5 325v2M630.5 327v2M631.5 329v2M632.5 331v2M633.5 333v2M634.5 335v2M635.5 337v2M636.5 339v3M637.5 342v2M638.5 344v2M639.5 346v2M640.5 348v2M641.5 350v2M642.5 352v2M643.5 354v2M644.5 356v2M645 358.5h1M646 359.5h1M647 360.5h1M648.5 361v2M649 363.5h1M650 364.5h1M651 365.5h1M652 366.5h1M653 367.5h1M654 368.5h1M655 369.5h1M656.5 370v2M657 372.5h1M658 373.5h1M659 374.5h1M660 375.5h3M663 376.5h4M667 377.5h22M689 378.5h6M695 377.5h4M699 376.5h3M702 375.5h2M704 374.5h2M706 373.5h2M708 372.5h2M710 371.5h2M712 370.5h2M714 369.5h2M716 368.5h2M718 367.5h2M720 366.5h2M722 365.5h2M724 364.5h1M725 363.5h1M726 362.5h1M727 361.5h1M728.5 359v2M729 358.5h1M730 357.5h1M731 356.5h1M732 355.5h1M733 354.5h1M734 353.5h1M735 352.5h1M736.5 350v2M737 349.5h1M738 348.5h1M739 347.5h1M740 346.5h1M741 345.5h1M742.5 343v2M743 342.5h1M744 341.5h1M745 340.5h1M746.5 338v2M747 337.5h1M748 336.5h1M749 335.5h1M750 334.5h1M751 333.5h1M752 332.5h1M753 331.5h1M754 330.5h1M755 329.5h1M756 328.5h1M757 327.5h2M759 326.5h1M760 325.5h1M761 324.5h2M763 323.5h1M764 322.5h1M765 321.5h2M767 320.5h1M768 319.5h1M769 318.5h2M771 317.5h1M772 316.5h1M773 315.5h2M775 314.5h2M777 313.5h1M778 312.5h2M780 311.5h1M781 310.5h2M783 309.5h2M785 308.5h1M786 307.5h2M788 306.5h2M790 305.5h3M793 304.5h2M795 303.5h3M798 302.5h2M800 301.5h2M802 300.5h2M804 299.5h1M805 298.5h1M806 297.5h1M807 296.5h2M809 295.5h1M810 294.5h1M811 293.5h1M812 292.5h1M813 291.5h1M814 290.5h1M815 289.5h2M817 288.5h1M818 287.5h1M819 286.5h1M820 285.5h1M821 284.5h1M822 283.5h1M823 282.5h2M825 281.5h1M826 280.5h1M827 279.5h1M828 278.5h1M829 277.5h2M831 276.5h2M833 275.5h1M834 274.5h2M836 273.5h1M837 272.5h2M839 271.5h2M841 270.5h1M842 269.5h2M844 268.5h2M846 267.5h3M849 266.5h2M851 265.5h6M857 264.5h5M862 263.5h2M864 262.5h2M866 261.5h2M868 260.5h2M870 259.5h3M873 258.5h2M875 257.5h3M878 256.5h3M881 255.5h2M883 254.5h4M887 253.5h4M891 252.5h6M897 251.5h5M902 250.5h3M905 249.5h2M907 248.5h6M913 247.5h6M919 246.5h4M923 245.5h4M927 244.5h4M931 243.5h3M934 242.5h2M936 241.5h2M938 240.5h2M940 239.5h2M942 238.5h2M944 237.5h2M946 236.5h2M948 235.5h2M950 234.5h3M953 233.5h2M955 232.5h4M959 231.5h4M963 230.5h3M966 229.5h3M969 228.5h2M971 227.5h14M985 228.5h5M990 229.5h3M993 230.5h2M995 231.5h4M999 232.5h4M1003 233.5h6M1009 232.5h5M1014 231.5h2M1016 230.5h2M1018 229.5h2M1020 228.5h2M1022 227.5h3M1025 226.5h2M1027 225.5h3M1030 224.5h3M1033 223.5h2M1035 222.5h3M1038 221.5h3M1041 220.5h2M1043 219.5h14M1057 218.5h6M1063 217.5h4M1067 216.5h4M1071 215.5h4M1075 214.5h3M1078 213.5h2M1080 212.5h2M1082 211.5h2M1084 210.5h2M1086 209.5h2M1088 208.5h2M1090 207.5h2M1092 206.5h2M1094 205.5h2M1096 204.5h2M1098 203.5h2M1100 202.5h1M1101 201.5h1M1102 200.5h1M1103 199.5h1M1104.5 197v2M1105 196.5h1M1106 195.5h1M1107 194.5h1M1108 193.5h1M1109 192.5h1M1110.5 190v2M1111 189.5h1M1112 188.5h1M1113 187.5h1M1114.5 185v2M1115 184.5h1M1116 183.5h1M1117 182.5h1M1118.5 180v2M1119 179.5h1M1120 178.5h1M1121 177.5h1M1122.5 175v2M1123 174.5h1M1124 173.5h1M1125 172.5h1M1126 171.5h1M1127 170.5h1M1128.5 168v2M1129 167.5h1M1130 166.5h1M1131 165.5h1M1132 164.5h1M1133 163.5h1M1134 162.5h1M1135 161.5h1M1136.5 159v2M1137 158.5h1M1138 157.5h1M1139 156.5h1M1140 155.5h1M1141 154.5h1M1142 153.5h1M1143 152.5h1M1144.5 150v2M1145 149.5h1M1146 148.5h1M1147 147.5h1M1148 146.5h1M1149 145.5h1M1150 144.5h1M1151 143.5h1M1152 142.5h1M1153 141.5h1M1154 140.5h1M1155 139.5h1M1156 138.5h1M1157 137.5h1M1158 136.5h1M1159 135.5h1M1160.5 133v2M1161 132.5h1M1162 131.5h1M1163 130.5h1M1164 129.5h1M1165 128.5h1M1166 127.5h1M1167 126.5h1M1168.5 124v2M1169 123.5h1M1170 122.5h1M1171 121.5h1M1172 120.5h1M1173 119.5h2M1175 118.5h1M1176 117.5h1M1177 116.5h2M1179 115.5h1M1180 114.5h1M1181 113.5h2M1183 112.5h1M1184 111.5h1M1185 110.5h2M1187 109.5h1M1188 108.5h2M1190 107.5h2M1192 106.5h2M1194 105.5h2M1196 104.5h2M1198 103.5h3M1201 102.5h2M1203 101.5h3M1206 100.5h2M1208 99.5h2M1210 98.5h2M1212 97.5h2M1214 96.5h2M1216 95.5h2M1218 94.5h2M1220 93.5h5M1225 94.5h6M1231 95.5h4M1235 96.5h4M1239 97.5h4M1243 98.5h11M1254 99.5h2M1256 100.5h2M1258 101.5h2" fill="none" stroke="#ff0000" stroke-width="1"/>
<path d="M4 102.5h2M6 101.5h2M8 100.5h2M10 99.5h2M12 98.5h2M14 97.5h3M17 96.5h2M19 95.5h4M23 94.5h4M27 93.5h2M29 92.5h2M31 91.5h2M33 90.5h1M34 89.5h2M36 88.5h2M38 87.5h2M40 86.5h2M42 85.5h2M44 84.5h2M46 83.5h2M48 82.5h2M50 81.5h2M52 80.5h1M53 79.5h2M55 78.5h2M57 77.5h1M58 76.5h2M60 75.5h1M61 74.5h2M63 73.5h2M65 72.5h1M66 71.5h2M68 70.5h5M73 69.5h13M86 70.5h2M88 71.5h2M90 72.5h2M92 73.5h1M93 74.5h2M95 75.5h2M97 76.5h1M98 77.5h2M100 78.5h1M101 79.5h1M102 80.5h1M103 81.5h1M104.5 82v2M105 84.5h1M106 85.5h1M107 86.5h1M108 87.5h1M109 88.5h1M110 89.5h1M111 90.5h1M112 91.5h1M113 92.5h1M114 93.5h1M115 94.5h1M116 95.5h1M117 96.5h2M119 97.5h1M120 98.5h1M121 99.5h2M123 100.5h1M124 101.5h2M126 102.5h2M128 103.5h2M130 104.5h2M132 105.5h5M137 106.5h8M145 105.5h5M150 104.5h3M153 103.5h2M155 102.5h4M159 101.5h4M163 100.5h20M183 101.5h4M187 102.5h4M191 103.5h4M195 104.5h4M199 105.5h4M203 106.5h3M206 107.5h2M208 108.5h2M210 109.5h2M212 110.5h3M215 111.5h4M219 112.5h3M222 113.5h3M225 114.5h2M227 115.5h3M230 116.5h3M233 117.5h2M235 118.5h2M237 119.5h2M239 120.5h1M240 121.5h1M241 122.5h2M243 123.5h1M244 124.5h1M245 125.5h2M247 126.5h1M248 127.5h1M249 128.5h2M251 129.5h1M252 130.5h1M253 131.5h1M254 132.5h1M255 133.5h2M257 134.5h1M258 135.5h1M259 136.5h1M260 137.5h1M261 138.5h1M262 139.5h1M263 140.5h2M265 141.5h1M266 142.5h1M267 143.5h1M268 144.5h1M269 145.5h1M270 146.5h1M271 147.5h2M273 148.5h1M274 149.5h1M275 150.5h1M276 151.5h2M278 152.5h3M281 153.5h2M283 154.5h3M286 155.5h2M288 156.5h2M290 157.5h2M292 158.5h3M295 159.5h4M299 160.5h3M302 159.5h3M305 158.5h2M307 157.5h3M310 156.5h3M313 155.5h2M315 154.5h12M327 155.5h4M331 156.5h4M335 157.5h4M339 158.5h4M343 159.5h4M347 160.5h6M353 159.5h5M358 158.5h3M361 157.5h2M363 156.5h3M366 155.5h3M369 154.5h2M371 153.5h6M377 152.5h8M385 153.5h5M390 154.5h3M393 155.5h2M395 156.5h3M398 157.5h3M401 158.5h2M403 159.5h2M405 160.5h2M407 161.5h2M409 162.5h1M410 163.5h2M412 164.5h1M413 165.5h2M415 166.5h2M417 167.5h1M418 168.5h2M420 169.5h1M421 170.5h2M423 171.5h2M425 172.5h1M426 173.5h2M428 174.5h1M429 175.5h2M431 176.5h2M433 177.5h1M434 178.5h2M436 179.5h2M438 180.5h2M440 181.5h2M442 182.5h2M444 183.5h2M446 184.5h2M448 185.5h2M450 186.5h2M452 187.5h2M454 188.5h2M456 189.5h2M458 190.5h2M460 191.5h1M461 192.5h1M462 193.5h1M463 194.5h1M464.5 195v2M465 197.5h1M466 198.5h1M467 199.5h1M468 200.5h1M469 201.5h2M471 202.5h1M472 203.5h1M473 204.5h2M475 205.5h1M476 206.5h1M477 207.5h2M479 208.5h2M481 209.5h1M482 210.5h2M484 211.5h2M486 210.5h3M489 209.5h2M491 208.5h4M495 207.5h4M499 206.5h2M501 205.5h1M502 204.5h1M503 203.5h2M505 202.5h1M506 201.5h1M507 200.5h1M508 199.5h1M509 198.5h1M510 197.5h1M511 196.5h1M512 195.5h1M513 194.5h1M514 193.5h1M515 192.5h1M516 191.5h1M517 190.5h1M518 189.5h1M519 188.5h2M521 187.5h1M522 186.5h1M523 185.5h1M524 184.5h2M526 183.5h3M529 182.5h2M531 181.5h2M533 182.5h1M534 183.5h1M535 184.5h1M536.5 185v2M537 187.5h1M538 188.5h1M539 189.5h1M540 190.5h1M541 191.5h2M543 192.5h2M545 193.5h1M546 194.5h2M548.5 195v2M549.5 197v2M550.5 199v2M551.5 201v3M552.5 204v2M553.5 206v3M554.5 209v2M555.5 211v2M556.5 213v3M557.5 216v4M558.5 220v4M559.5 224v4M560.5 228v4M561.5 232v4M562.5 236v4M563.5 240v4M564.5 244v3M565.5 247v4M566.5 251v3M567.5 254v3M568.5 257v4M569.5 261v3M570.5 264v3M571.5 267v4M572.5 271v3M573.5 274v3M574.5 277v3M575.5 280v3M576.5 283v3M577.5 286v3M578.5 289v3M579.5 292v3M580.5 295v3M581.5 298v4M582.5 302v4M583.5 306v4M584.5 310v4M585.5 314v4M586.5 318v4M587.5 322v4M588.5 326v3M589.5 329v4M590.5 333v4M591.5 337v3M592.5 340v4M593.5 344v3M594.5 347v4M595.5 351v4M596.5 355v3M597.5 358v2M598.5 360v2M599.5 362v3M600.5 365v2M601.5 367v3M602.5 370v2M603.5 372v2M604.5 374v3M605.5 377v2M606.5 379v2M607.5 381v2M608.5 383v3M609.5 386v2M610.5 388v2M611.5 390v2M612.5 392v3M613.5 395v2M614.5 397v2M615.5 399v2M616.5 401v2M617.5 403v2M618.5 405v2M619.5 407v2M620.5 409v3M621.5 412v2M622.5 414v2M623.5 416v2M624.5 418v2M625.5 420v2M626.5 422v2M627.5 424v2M628.5 426v2M629 426.5h2M631 425.5h1M632 424.5h1M633 423.5h2M635 422.5h1M636 421.5h1M637 420.5h2M639 419.5h1M640 418.5h1M641 417.5h2M643 416.5h1M644 415.5h1M645.5 413v2M646.5 411v2M647 410.5h1M648.5 408v2M649 407.5h1M650.5 405v2M651.5 403v2M652.5 401v2M653.5 398v3M654.5 395v3M655.5 392v3M656.5 390v2M657.5 387v3M658.5 384v3M659.5 381v3M660.5 378v3M661.5 375v3M662.5 372v3M663.5 369v3M664.5 366v3M665.5 363v3M666.5 360v3M667.5 357v3M668.5 355v2M669.5 353v2M670 352.5h1M671.5 350v2M672 349.5h1M673.5 347v2M674 346.5h1M675.5 344v2M676 343.5h1M677 342.5h1M678.5 340v2M679 339.5h1M680 338.5h1M681 337.5h1M682.5 335v2M683 334.5h1M684 333.5h1M685 332.5h2M687 331.5h2M689 330.5h1M690 329.5h2M692 328.5h1M693 329.5h2M695 330.5h2M697 331.5h1M698 332.5h2M700 333.5h1M701.5 334v2M702 336.5h1M703.5 337v2M704 339.5h1M705.5 340v2M706 342.5h1M707.5 343v2M708 345.5h1M709 346.5h1M710 347.5h1M711 348.5h1M712 349.5h1M713 350.5h1M714 351.5h1M715 352.5h1M716 353.5h2M718 354.5h3M721 355.5h2M723 356.5h2M725 355.5h2M727 354.5h2M729 353.5h1M730 352.5h2M732 351.5h1M733.5 349v2M734 348.5h1M735 347.5h1M736.5 345v2M737 344.5h1M738 343.5h1M739.5 341v2M740.5 339v2M741.5 337v2M742.5 334v3M743.5 332v2M744.5 329v3M745.5 327v2M746.5 324v3M747.5 322v2M748.5 319v3M749.5 317v2M750.5 315v2M751.5 312v3M752.5 310v2M753.5 307v3M754.5 305v2M755.5 303v2M756.5 300v3M757.5 298v2M758.5 296v2M759.5 294v2M760.5 292v2M761.5 290v2M762.5 288v2M763.5 286v2M764 285.5h1M765.5 283v2M766 282.5h1M767.5 280v2M768 279.5h1M769.5 277v2M770 276.5h1M771.5 274v2M772 273.5h1M773.5 271v2M774 270.5h1M775 269.5h1M776.5 267v2M777 266.5h1M778 265.5h1M779.5 263v2M780 262.5h5M785 261.5h5M790 262.5h3M793 263.5h2M795 264.5h6M801 263.5h8M809 264.5h6M815 265.5h4M819 266.5h3M822 267.5h2M824 268.5h2M826 269.5h2M828 270.5h5M833 269.5h6M839 268.5h4M843 267.5h4M847 266.5h4M851 265.5h10M861 264.5h1M862.5 262v2M863 261.5h1M864 260.5h1M865 259.5h1M866.5 257v2M867 256.5h1M868 255.5h1M869.5 253v2M870 252.5h1M871 251.5h1M872.5 249v2M873 248.5h1M874 247.5h1M875.5 245v2M876 244.5h1M877 243.5h1M878.5 241v2M879 240.5h1M880 239.5h1M881 238.5h1M882.5 236v2M883 235.5h1M884 234.5h1M885 233.5h1M886 232.5h1M887 231.5h1M888 230.5h1M889 229.5h1M890 228.5h1M891 227.5h1M892 226.5h3M895 225.5h4M899 224.5h2M901 225.5h2M903 226.5h2M905 227.5h1M906 228.5h2M908 229.5h2M910 230.5h2M912 231.5h2M914 232.5h2M916 233.5h3M919 234.5h4M923 235.5h2M925 236.5h1M926 237.5h1M927 238.5h1M928 239.5h1M929 240.5h1M930 241.5h1M931 242.5h1M932 243.5h1M933 242.5h2M935 241.5h1M936 240.5h1M937 239.5h2M939 238.5h1M940 237.5h1M941 236.5h1M942 235.5h1M943 234.5h1M944 233.5h1M945 232.5h1M946 231.5h1M947 230.5h1M948 229.5h2M950 228.5h2M952 227.5h2M954 226.5h2M956 225.5h3M959 224.5h4M963 223.5h2M965 222.5h2M967 221.5h1M968 220.5h1M969 219.5h2M971 218.5h1M972 217.5h2M974 218.5h3M977 219.5h2M979 220.5h2M981 221.5h1M982 222.5h1M983 223.5h2M985 224.5h1M986 225.5h1M987 226.5h1M988 227.5h1M989 228.5h1M990 229.5h1M991 230.5h2M993 231.5h1M994 232.5h1M995 233.5h1M996 234.5h2M998 235.5h3M1001 236.5h2M1003 237.5h10M1013 236.5h2M1015 235.5h1M1016 234.5h1M1017 233.5h2M1019 232.5h1M1020 231.5h1M1021 230.5h1M1022 229.5h1M1023 228.5h1M1024 227.5h1M1025 226.5h1M1026 225.5h1M1027 224.5h1M1028 223.5h1M1029 222.5h1M1030.5 220v2M1031 219.5h1M1032 218.5h1M1033 217.5h1M1034.5 215v2M1035 214.5h1M1036 213.5h1M1037 212.5h1M1038 211.5h1M1039 210.5h1M1040.5 208v2M1041 207.5h1M1042 206.5h1M1043 205.5h1M1044 204.5h5M1049 203.5h8M1057 204.5h5M1062 203.5h3M1065 202.5h2M1067 201.5h4M1071 200.5h4M1075 199.5h2M1077 198.5h1M1078 197.5h1M1079 196.5h2M1081 195.5h1M1082 194.5h1M1083 193.5h1M1084 192.5h1M1085 191.5h2M1087 190.5h1M1088 189.5h1M1089 188.5h2M1091 187.5h1M1092 186.5h1M1093 185.5h1M1094 184.5h1M1095 183.5h2M1097 182.5h1M1098 181.5h1M1099 180.5h1M1100 179.5h1M1101.5 177v2M1102 176.5h1M1103 175.5h1M1104.5 173v2M1105 172.5h1M1106 171.5h1M1107.5 169v2M1108.5 167v2M1109.5 165v2M1110.5 163v2M1111.5 161v2M1112.5 159v2M1113.5 157v2M1114.5 155v2M1115.5 153v2M1116.5 151v2M1117.5 149v2M1118.5 147v2M1119.5 145v2M1120.5 143v2M1121.5 141v2M1122.5 139v2M1123.5 137v2M1124.5 134v3M1125.5 131v3M1126.5 128v3M1127.5 125v3M1128.5 121v4M1129.5 118v3M1130.5 115v3M1131.5 112v3M1132.5 110v2M1133.5 108v2M1134 107.5h1M1135.5 105v2M1136 104.5h1M1137.5 102v2M1138 101.5h1M1139.5 99v2M1140 98.5h1M1141.5 96v2M1142 95.5h1M1143.5 93v2M1144 92.5h1M1145.5 90v2M1146 89.5h1M1147.5 87v2M1148 86.5h1M1149 85.5h1M1150 84.5h1M1151 83.5h2M1153 82.5h1M1154 81.5h1M1155 80.5h1M1156 79.5h5M1161 78.5h5M1166 77.5h3M1169 76.5h2M1171 75.5h2M1173 76.5h1M1174 77.5h1M1175 78.5h2M1177 79.5h1M1178 80.5h1M1179 81.5h1M1180 82.5h1M1181 83.5h1M1182 84.5h1M1183 85.5h1M1184 86.5h1M1185 87.5h1M1186 88.5h1M1187 89.5h1M1188 90.5h1M1189 91.5h1M1190 92.5h1M1191 93.5h1M1192 94.5h1M1193 95.5h1M1194 96.5h1M1195 97.5h1M1196 98.5h1M1197 99.5h2M1199 100.5h1M1200 101.5h1M1201 102.5h2M1203 103.5h1M1204 104.5h1M1205 105.5h2M1207 106.5h1M1208 107.5h1M1209 108.5h2M1211 109.5h1M1212 110.5h21M1233 109.5h8M1241 110.5h8M1249 109.5h5M1254 108.5h4M1258 107.5h2" fill="none" stroke="#ffa500" stroke-width="1"/>
<rect x="4" y="68" width="1592" height="2" fill="#ff0000"/>
<rect x="4" y="98" width="1592" height="2" fill="#ff0000"/>
<rect x="4" y="128" width="1592" height="2" fill="#00ff00"/>
<rect x="4" y="167" width="1592" height="2" fill="#0000ff"/>
<rect x="4" y="218" width="1592" height="2" fill="#0000ff"/>
</g>
<rect x="3" y="126" width="6" height="6" fill="#00ff00"/><rect x="5" y="128" width="2" height="2" fill="#fff"/>
<rect x="1590" y="126" width="6" height="6" fill="#00ff00"/><rect x="1592" y="128" width="2" height="2" fill="#fff"/>
<rect x="3" y="216" width="6" height="6" fill="#0000ff"/><rect x="5" y="218" width="2" height="2" fill="#fff"/>
<rect x="1590" y="216" width="6" height="6" fill="#0000ff"/><rect x="1592" y="218" width="2" height="2" fill="#fff"/>
<rect x="1597" y="33" width="2" height="1" fill="#000"/>
<rect x="1597" y="66" width="2" height="1" fill="#000"/>
<rect x="1597" y="99" width="2" height="1" fill="#000"/>
<rect x="1597" y="132" width="2" height="1" fill="#000"/>
<rect x="1597" y="165" width="2" height="1" fill="#000"/>
<rect x="1597" y="198" width="2" height="1" fill="#000"/>
<rect x="1597" y="231" width="2" height="1" fill="#000"/>
<rect x="1597" y="264" width="2" height="1" fill="#000"/>
<rect x="1597" y="297" width="2" height="1" fill="#000"/>
<rect x="1597" y="330" width="2" height="1" fill="#000"/>
<rect x="1597" y="363" width="2" height="1" fill="#000"/>
<rect x="1597" y="396" width="2" height="1" fill="#000"/>
<rect x="1597" y="429" width="2" height="1" fill="#000"/>
<rect x="1597" y="462" width="2" height="1" fill="#000"/>
<rect x="1597" y="495" width="2" height="1" fill="#000"/>
<rect x="1597" y="528" width="2" height="1" fill="#000"/>
<line x1="4" y1="561.5" x2="1596" y2="561.5" stroke="#c0c0c0" stroke-width="1" stroke-dasharray="3 3"/>
<rect x="1597" y="561" width="2" height="1" fill="#000"/>
<line x1="4" y1="597.5" x2="1596" y2="597.5" stroke="#c0c0c0" stroke-width="1" stroke-dasharray="3 3"/>
<rect x="1597" y="597" width="2" height="1" fill="#000"/>
<path d="M4 568.5h3M7 567.5h4M11 566.5h4M15 567.5h4M19 568.5h3M22 567.5h3M25 566.5h2M27 565.5h3M30 564.5h2M32 563.5h2M34 562.5h2M36 561.5h5M41 562.5h6M47 561.5h4M51 560.5h3M54 559.5h3M57 558.5h2M59 557.5h3M62 558.5h3M65 559.5h2M67 560.5h3M70 561.5h3M73 562.5h2M75 563.5h2M77 564.5h1M78.5 565v2M79 567.5h1M80 568.5h1M81 569.5h1M82.5 570v2M83 572.5h1M84 573.5h5M89 574.5h5M94 575.5h2M96 576.5h2M98 577.5h2M100 578.5h1M101 579.5h1M102 580.5h1M103 581.5h1M104.5 582v2M105 584.5h1M106 585.5h1M107 586.5h1M108 587.5h3M111 588.5h4M115 589.5h10M125 588.5h1M126 587.5h1M127 586.5h1M128.5 584v2M129 583.5h1M130 582.5h1M131 581.5h1M132 580.5h21M153 581.5h8M161 580.5h6M167 581.5h4M171 582.5h3M174 583.5h3M177 584.5h2M179 585.5h12M191 586.5h4M195 587.5h6M201 588.5h5M206 589.5h2M208 590.5h2M210 591.5h2M212 592.5h2M214 591.5h3M217 590.5h2M219 589.5h3M222 590.5h2M224 591.5h2M226 592.5h2M228 593.5h5M233 594.5h4M237 595.5h1M238 596.5h1M239 597.5h2M241 598.5h1M242 599.5h1M243 600.5h1M244 601.5h5M249 602.5h6M255 603.5h4M259 604.5h4M263 605.5h4M267 606.5h6M273 607.5h8M281 606.5h12M293 605.5h1M294.5 603v2M295 602.5h1M296 601.5h1M297 600.5h1M298.5 598v2M299 597.5h1M300 596.5h2M302 595.5h2M304 594.5h2M306 593.5h2M308 592.5h3M311 593.5h4M315 594.5h2M317 595.5h2M319 596.5h2M321 597.5h1M322 598.5h2M324 599.5h5M329 600.5h8M337 599.5h4M341 598.5h1M342.5 596v2M343 595.5h1M344 594.5h1M345 593.5h1M346.5 591v2M347 590.5h1M348 589.5h1M349 588.5h2M351 587.5h2M353 586.5h1M354 585.5h2M356 584.5h3M359 585.5h4M363 586.5h4M367 587.5h4M371 588.5h6M377 589.5h8M385 588.5h5M390 589.5h3M393 590.5h2M395 591.5h4M399 592.5h4M403 593.5h2M405 594.5h1M406 595.5h1M407 596.5h2M409 597.5h1M410 598.5h1M411 599.5h1M412 600.5h3M415 599.5h4M419 598.5h12M431 599.5h4M435 600.5h6M441 601.5h4M445 602.5h2M447 603.5h2M449 604.5h1M450 605.5h2M452 606.5h1M453 605.5h2M455 604.5h1M456 603.5h1M457 602.5h2M459 601.5h1M460 600.5h1M461 601.5h1M462 602.5h1M463 603.5h1M464 604.5h1M465 605.5h1M466 606.5h1M467 607.5h1M468 608.5h1M469.5 606v2M470 605.5h1M471.5 603v2M472 602.5h1M473.5 600v2M474 599.5h1M475.5 597v2M476 596.5h9M485.5 594v2M486.5 592v2M487.5 590v2M488 589.5h1M489.5 587v2M490.5 585v2M491.5 583v2M492 582.5h11M503 583.5h4M507 584.5h3M510 583.5h3M513 582.5h2M515 581.5h6M521 580.5h6M527 579.5h4M531 578.5h2M532 579.5h1M533.5 580v2M534.5 582v2M535.5 584v2M536.5 586v2M537.5 588v2M538.5 590v2M539.5 592v2M540 594.5h1M541 593.5h2M543 592.5h2M545 591.5h1M546 590.5h2M548 589.5h1M549.5 590v2M550 592.5h1M551 593.5h1M552.5 594v2M553 596.5h1M554 597.5h1M555.5 598v2M556 600.5h2M558 601.5h2M560 602.5h2M562 603.5h2M564 604.5h13M577 605.5h5M582 606.5h3M585 607.5h2M587 608.5h3M590 609.5h3M593 610.5h2M595 611.5h4M599 610.5h4M603 609.5h22M625 610.5h4M629.5 608v2M630.5 606v2M631.5 604v2M632 603.5h1M633.5 601v2M634.5 599v2M635.5 597v2M636 596.5h3M639 595.5h4M643 594.5h2M645 593.5h2M647 592.5h1M648 591.5h1M649 590.5h2M651 589.5h1M652 588.5h2M654 587.5h2M656 586.5h2M658 585.5h2M660 584.5h2M662 583.5h2M664 582.5h2M666 581.5h2M668 580.5h3M671 581.5h4M675 582.5h6M681 583.5h8M689 584.5h5M694 585.5h3M697 586.5h2M699 587.5h4M703 588.5h4M707 589.5h10M717 588.5h2M719 587.5h1M720 586.5h1M721 585.5h2M723 584.5h1M724 583.5h1M725 582.5h2M727 581.5h1M728 580.5h1M729 579.5h2M731 578.5h1M732 577.5h3M735 576.5h4M739 575.5h3M742 574.5h2M744 573.5h2M746 572.5h2M748 571.5h5M753 570.5h8M761 569.5h8M769 568.5h6M775 567.5h4M779 566.5h2M781 567.5h1M782 568.5h1M783 569.5h2M785 570.5h1M786 571.5h1M787 572.5h1M788 573.5h3M791 574.5h4M795 575.5h4M799 574.5h4M803 573.5h6M809 572.5h6M815 571.5h4M819 570.5h2M821 571.5h1M822 572.5h1M823 573.5h1M824 574.5h1M825 575.5h1M826 576.5h1M827 577.5h1M828 578.5h3M831 577.5h4M835 576.5h3M838 575.5h2M840 574.5h2M842 573.5h2M844 572.5h5M849 573.5h12M861 572.5h2M863 571.5h2M865 570.5h1M866 569.5h2M868 568.5h3M871 567.5h4M875 566.5h4M879 565.5h4M883 564.5h4M887 565.5h4M891 566.5h2M893 567.5h1M894 568.5h1M895 569.5h1M896 570.5h1M897 571.5h1M898 572.5h1M899 573.5h1M900 574.5h5M905 575.5h13M918 574.5h3M921 573.5h2M923 572.5h3M926 573.5h2M928 574.5h2M930 575.5h2M932 576.5h1M933 575.5h2M935 574.5h1M936 573.5h1M937 572.5h2M939 571.5h1M940 570.5h3M943 569.5h4M947 568.5h6M953 569.5h4M957 570.5h2M959 571.5h2M961 572.5h1M962 573.5h2M964 574.5h3M967 573.5h4M971 572.5h3M974 573.5h2M976 574.5h2M978 575.5h2M980 576.5h2M982 577.5h3M985 578.5h2M987 579.5h6M993 580.5h8M1001 579.5h4M1005 578.5h1M1006 577.5h1M1007 576.5h2M1009 575.5h1M1010 574.5h1M1011 573.5h1M1012 572.5h2M1014 571.5h3M1017 570.5h2M1019 569.5h4M1023 568.5h4M1027 567.5h3M1030 568.5h2M1032 569.5h2M1034 570.5h2M1036 571.5h2M1038 572.5h3M1041 573.5h2M1043 574.5h6M1049 573.5h8M1057 572.5h4M1061 571.5h2M1063 570.5h1M1064 569.5h1M1065 568.5h2M1067 567.5h1M1068 566.5h1M1069 567.5h2M1071 568.5h2M1073 569.5h1M1074 570.5h2M1076 571.5h2M1078 570.5h2M1080 569.5h2M1082 568.5h2M1084 567.5h3M1087 568.5h4M1091 569.5h6M1097 568.5h4M1101 567.5h2M1103 566.5h1M1104 565.5h1M1105 564.5h2M1107 563.5h1M1108 562.5h2M1110 561.5h3M1113 560.5h2M1115 559.5h3M1118 558.5h3M1121 557.5h2M1123 556.5h14M1137 555.5h6M1143 556.5h4M1147 557.5h6M1153 556.5h5M1158 557.5h3M1161 558.5h2M1163 559.5h4M1167 558.5h4M1171 557.5h2M1173.5 558v2M1174 560.5h1M1175.5 561v2M1176 563.5h1M1177.5 564v2M1178 566.5h1M1179.5 567v2M1180 569.5h2M1182 570.5h3M1185 571.5h2M1187 572.5h6M1193 573.5h8M1201 572.5h6M1207 571.5h4M1211 570.5h6M1217 569.5h4M1221 570.5h2M1223 571.5h2M1225 572.5h1M1226 573.5h2M1228 574.5h18M1246 573.5h2M1248 572.5h2M1250 571.5h2M1252 570.5h5M1257 569.5h4" fill="none" stroke="#1e90ff" stroke-width="1"/>
<rect x="4" y="660" width="1" height="5" fill="#c0c0c0"/>
<rect x="12" y="660" width="1" height="5" fill="#c0c0c0"/>
<rect x="20" y="659" width="1" height="6" fill="#c0c0c0"/>
<rect x="28" y="659" width="1" height="6" fill="#c0c0c0"/>
<rect x="36" y="658" width="1" height="7" fill="#c0c0c0"/>
<rect x="44" y="658" width="1" height="7" fill="#c0c0c0"/>
<rect x="52" y="657" width="1" height="8" fill="#c0c0c0"/>
<rect x="60" y="656" width="1" height="9" fill="#c0c0c0"/>
<rect x="68" y="656" width="1" height="9" fill="#c0c0c0"/>
<rect x="76" y="656" width="1" height="9" fill="#c0c0c0"/>
<rect x="84" y="656" width="1" height="9" fill="#c0c0c0"/>
<rect x="92" y="656" width="1" height="9" fill="#c0c0c0"/>
<rect x="100" y="656" width="1" height="9" fill="#c0c0c0"/>
<rect x="108" y="658" width="1" height="7" fill="#c0c0c0"/>
<rect x="116" y="661" width="1" height="4" fill="#c0c0c0"/>
<rect x="124" y="663" width="1" height="2" fill="#c0c0c0"/>
<rect x="132" y="664" width="1" height="1" fill="#c0c0c0"/>
<rect x="140" y="664" width="1" height="1" fill="#c0c0c0"/>
<rect x="148" y="664" width="1" height="1" fill="#c0c0c0"/>
<rect x="156" y="664" width="1" height="1" fill="#c0c0c0"/>
<rect x="196" y="665" width="1" height="1" fill="#c0c0c0"/>
<rect x="204" y="665" width="1" height="1" fill="#c0c0c0"/>
<rect x="212" y="665" width="1" height="2" fill="#c0c0c0"/>
<rect x="220" y="665" width="1" height="2" fill="#c0c0c0"/>
<rect x="228" y="665" width="1" height="3" fill="#c0c0c0"/>
<rect x="236" y="665" width="1" height="3" fill="#c0c0c0"/>
<rect x="244" y="665" width="1" height="4" fill="#c0c0c0"/>
<rect x="252" y="665" width="1" height="5" fill="#c0c0c0"/>
<rect x="260" y="665" width="1" height="7" fill="#c0c0c0"/>
<rect x="268" y="665" width="1" height="8" fill="#c0c0c0"/>
<rect x="276" y="665" width="1" height="9" fill="#c0c0c0"/>
<rect x="284" y="665" width="1" height="11" fill="#c0c0c0"/>
<rect x="292" y="665" width="1" height="11" fill="#c0c0c0"/>
<rect x="300" y="665" width="1" height="11" fill="#c0c0c0"/>
<rect x="308" y="665" width="1" height="11" fill="#c0c0c0"/>
<rect x="316" y="665" width="1" height="11" fill="#c0c0c0"/>
<rect x="324" y="665" width="1" height="11" fill="#c0c0c0"/>
<rect x="332" y="665" width="1" height="11" fill="#c0c0c0"/>
<rect x="340" y="665" width="1" height="11" fill="#c0c0c0"/>
<rect x="348" y="665" width="1" height="9" fill="#c0c0c0"/>
<rect x="356" y="665" width="1" height="8" fill="#c0c0c0"/>
<rect x="364" y="665" width="1" height="7" fill="#c0c0c0"/>
<rect x="372" y="665" width="1" height="7" fill="#c0c0c0"/>
<rect x="380" y="665" width="1" height="7" fill="#c0c0c0"/>
<rect x="388" y="665" width="1" height="7" fill="#c0c0c0"/>
<rect x="396" y="665" width="1" height="7" fill="#c0c0c0"/>
<rect x="404" y="665" width="1" height="7" fill="#c0c0c0"/>
<rect x="412" y="665" width="1" height="7" fill="#c0c0c0"/>
<rect x="420" y="665" width="1" height="7" fill="#c0c0c0"/>
<rect x="428" y="665" width="1" height="7" fill="#c0c0c0"/>
<rect x="436" y="665" width="1" height="7" fill="#c0c0c0"/>
<rect x="444" y="665" width="1" height="7" fill="#c0c0c0"/>
<rect x="452" y="665" width="1" height="9" fill="#c0c0c0"/>
<rect x="460" y="665" width="1" height="9" fill="#c0c0c0"/>
<rect x="468" y="665" width="1" height="13" fill="#c0c0c0"/>
<rect x="476" y="665" width="1" height="13" fill="#c0c0c0"/>
<rect x="484" y="665" width="1" height="13" fill="#c0c0c0"/>
<rect x="492" y="665" width="1" height="10" fill="#c0c0c0"/>
<rect x="500" y="665" width="1" height="9" fill="#c0c0c0"/>
<rect x="508" y="665" width="1" height="9" fill="#c0c0c0"/>
<rect x="516" y="665" width="1" height="7" fill="#c0c0c0"/>
<rect x="524" y="665" width="1" height="5" fill="#c0c0c0"/>
<rect x="532" y="665" width="1" height="4" fill="#c0c0c0"/>
<rect x="540" y="665" width="1" height="6" fill="#c0c0c0"/>
<rect x="548" y="665" width="1" height="7" fill="#c0c0c0"/>
<rect x="556" y="665" width="1" height="13" fill="#c0c0c0"/>
<rect x="564" y="665" width="1" height="17" fill="#c0c0c0"/>
<rect x="572" y="665" width="1" height="23" fill="#c0c0c0"/>
<rect x="580" y="665" width="1" height="26" fill="#c0c0c0"/>
<rect x="588" y="665" width="1" height="31" fill="#c0c0c0"/>
<rect x="596" y="665" width="1" height="37" fill="#c0c0c0"/>
<rect x="604" y="665" width="1" height="42" fill="#c0c0c0"/>
<rect x="612" y="665" width="1" height="45" fill="#c0c0c0"/>
<rect x="620" y="665" width="1" height="47" fill="#c0c0c0"/>
<rect x="628" y="665" width="1" height="48" fill="#c0c0c0"/>
<rect x="636" y="665" width="1" height="47" fill="#c0c0c0"/>
<rect x="644" y="665" width="1" height="45" fill="#c0c0c0"/>
<rect x="652" y="665" width="1" height="40" fill="#c0c0c0"/>
<rect x="660" y="665" width="1" height="35" fill="#c0c0c0"/>
<rect x="668" y="665" width="1" height="29" fill="#c0c0c0"/>
<rect x="676" y="665" width="1" height="25" fill="#c0c0c0"/>
<rect x="684" y="665" width="1" height="23" fill="#c0c0c0"/>
<rect x="692" y="665" width="1" height="20" fill="#c0c0c0"/>
<rect x="700" y="665" width="1" height="19" fill="#c0c0c0"/>
<rect x="708" y="665" width="1" height="19" fill="#c0c0c0"/>
<rect x="716" y="665" width="1" height="19" fill="#c0c0c0"/>
<rect x="724" y="665" width="1" height="17" fill="#c0c0c0"/>
<rect x="732" y="665" width="1" height="13" fill="#c0c0c0"/>
<rect x="740" y="665" width="1" height="9" fill="#c0c0c0"/>
<rect x="748" y="665" width="1" height="5" fill="#c0c0c0"/>
<rect x="756" y="665" width="1" height="1" fill="#c0c0c0"/>
<rect x="764" y="664" width="1" height="1" fill="#c0c0c0"/>
<rect x="772" y="660" width="1" height="5" fill="#c0c0c0"/>
<rect x="780" y="658" width="1" height="7" fill="#c0c0c0"/>
<rect x="788" y="656" width="1" height="9" fill="#c0c0c0"/>
<rect x="796" y="656" width="1" height="9" fill="#c0c0c0"/>
<rect x="804" y="655" width="1" height="10" fill="#c0c0c0"/>
<rect x="812" y="655" width="1" height="10" fill="#c0c0c0"/>
<rect x="820" y="654" width="1" height="11" fill="#c0c0c0"/>
<rect x="828" y="655" width="1" height="10" fill="#c0c0c0"/>
<rect x="836" y="656" width="1" height="9" fill="#c0c0c0"/>
<rect x="844" y="656" width="1" height="9" fill="#c0c0c0"/>
<rect x="852" y="654" width="1" height="11" fill="#c0c0c0"/>
<rect x="860" y="654" width="1" height="11" fill="#c0c0c0"/>
<rect x="868" y="653" width="1" height="12" fill="#c0c0c0"/>
<rect x="876" y="651" width="1" height="14" fill="#c0c0c0"/>
<rect x="884" y="649" width="1" height="16" fill="#c0c0c0"/>
<rect x="892" y="648" width="1" height="17" fill="#c0c0c0"/>
<rect x="900" y="650" width="1" height="15" fill="#c0c0c0"/>
<rect x="908" y="651" width="1" height="14" fill="#c0c0c0"/>
<rect x="916" y="652" width="1" height="13" fill="#c0c0c0"/>
<rect x="924" y="652" width="1" height="13" fill="#c0c0c0"/>
<rect x="932" y="653" width="1" height="12" fill="#c0c0c0"/>
<rect x="940" y="652" width="1" height="13" fill="#c0c0c0"/>
<rect x="948" y="652" width="1" height="13" fill="#c0c0c0"/>
<rect x="956" y="651" width="1" height="14" fill="#c0c0c0"/>
<rect x="964" y="651" width="1" height="14" fill="#c0c0c0"/>
<rect x="972" y="652" width="1" height="13" fill="#c0c0c0"/>
<rect x="980" y="653" width="1" height="12" fill="#c0c0c0"/>
<rect x="988" y="655" width="1" height="10" fill="#c0c0c0"/>
<rect x="996" y="657" width="1" height="8" fill="#c0c0c0"/>
<rect x="1004" y="658" width="1" height="7" fill="#c0c0c0"/>
<rect x="1012" y="657" width="1" height="8" fill="#c0c0c0"/>
<rect x="1020" y="656" width="1" height="9" fill="#c0c0c0"/>
<rect x="1028" y="654" width="1" height="11" fill="#c0c0c0"/>
<rect x="1036" y="654" width="1" height="11" fill="#c0c0c0"/>
<rect x="1044" y="655" width="1" height="10" fill="#c0c0c0"/>
<rect x="1052" y="656" width="1" height="9" fill="#c0c0c0"/>
<rect x="1060" y="656" width="1" height="9" fill="#c0c0c0"/>
<rect x="1068" y="654" width="1" height="11" fill="#c0c0c0"/>
<rect x="1076" y="654" width="1" height="11" fill="#c0c0c0"/>
<rect x="1084" y="652" width="1" height="13" fill="#c0c0c0"/>
<rect x="1092" y="652" width="1" height="13" fill="#c0c0c0"/>
<rect x="1100" y="651" width="1" height="14" fill="#c0c0c0"/>
<rect x="1108" y="648" width="1" height="17" fill="#c0c0c0"/>
<rect x="1116" y="645" width="1" height="20" fill="#c0c0c0"/>
<rect x="1124" y="641" width="1" height="24" fill="#c0c0c0"/>
<rect x="1132" y="639" width="1" height="26" fill="#c0c0c0"/>
<rect x="1140" y="636" width="1" height="29" fill="#c0c0c0"/>
<rect x="1148" y="635" width="1" height="30" fill="#c0c0c0"/>
<rect x="1156" y="634" width="1" height="31" fill="#c0c0c0"/>
<rect x="1164" y="634" width="1" height="31" fill="#c0c0c0"/>
<rect x="1172" y="634" width="1" height="31" fill="#c0c0c0"/>
<rect x="1180" y="636" width="1" height="29" fill="#c0c0c0"/>
<rect x="1188" y="638" width="1" height="27" fill="#c0c0c0"/>
<rect x="1196" y="641" width="1" height="24" fill="#c0c0c0"/>
<rect x="1204" y="643" width="1" height="22" fill="#c0c0c0"/>
<rect x="1212" y="644" width="1" height="21" fill="#c0c0c0"/>
<rect x="1220" y="645" width="1" height="20" fill="#c0c0c0"/>
<rect x="1228" y="647" width="1" height="18" fill="#c0c0c0"/>
<rect x="1236" y="649" width="1" height="16" fill="#c0c0c0"/>
<rect x="1244" y="650" width="1" height="15" fill="#c0c0c0"/>
<rect x="1252" y="651" width="1" height="14" fill="#c0c0c0"/>
<rect x="1260" y="651" width="1" height="14" fill="#c0c0c0"/>
<path d="M4 660.5h3M10 660.5h3M16 660.5h3M22 660.5h3M28 660.5h1M29 659.5h2M34 659.5h3M40 659.5h3M46 658.5h3M52 658.5h3M58 657.5h3M64 657.5h1M65 656.5h2M70 656.5h3M76 656.5h1M77 655.5h2M82 655.5h3M88 655.5h3M94 655.5h3M100 655.5h3M106 655.5h3M112 655.5h1M113 656.5h2M118 656.5h3M124 656.5h1M125 657.5h2M130 657.5h3M136 658.5h3M142 659.5h3M148 660.5h3M154 660.5h3M160 661.5h3M166 661.5h3M172 662.5h3M178 663.5h3M184 663.5h3M190 664.5h3M196 664.5h3M202 664.5h3M208 665.5h3M214 665.5h3M220 665.5h1M221 666.5h2M226 666.5h3M232 666.5h3M238 667.5h3M244 667.5h3M250 668.5h3M256 668.5h1M257 669.5h2M262 669.5h1M263 670.5h2M268 670.5h1M269 671.5h2M274 672.5h3M280 672.5h3M286 673.5h3M292 673.5h3M298 673.5h3M304 674.5h3M310 674.5h3M316 674.5h1M317 675.5h2M322 675.5h3M328 675.5h3M334 675.5h3M340 675.5h3M346 675.5h3M352 675.5h3M358 675.5h3M364 675.5h1M365 674.5h2M370 674.5h3M376 674.5h3M382 673.5h3M388 673.5h3M394 673.5h3M400 672.5h3M406 672.5h3M412 672.5h3M418 672.5h3M424 672.5h3M430 672.5h3M436 672.5h3M442 672.5h3M448 672.5h1M449 673.5h2M454 673.5h3M460 673.5h1M461 674.5h2M466 674.5h3M472 674.5h1M473 675.5h2M478 675.5h3M484 676.5h3M490 676.5h3M496 676.5h3M502 676.5h3M508 676.5h3M514 676.5h3M520 676.5h3M526 676.5h3M532 675.5h3M538 675.5h3M544 674.5h3M550 674.5h3M556 674.5h3M562 674.5h3M568 674.5h1M569 675.5h2M574 676.5h3M580 678.5h3M586 679.5h1M587 680.5h2M592 682.5h2M594 683.5h1M598 685.5h2M600 686.5h1M604 688.5h1M605 689.5h2M610 692.5h2M612 693.5h1M616 695.5h2M618 696.5h1M622 698.5h2M624 699.5h1M628 701.5h2M630 702.5h1M634 703.5h1M635 704.5h2M640 705.5h3M646 706.5h1M647 707.5h2M652 708.5h3M658 708.5h3M664 708.5h1M665 707.5h2M670 707.5h3M676 706.5h2M678 705.5h1M682 704.5h1M683 703.5h2M688 702.5h1M689 701.5h2M694 699.5h3M700 697.5h2M702 696.5h1M706 695.5h1M707 694.5h2M712 693.5h1M713 692.5h2M718 690.5h3M724 688.5h3M730 687.5h1M731 686.5h2M736 685.5h3M742 683.5h3M748 681.5h3M754 680.5h1M755 679.5h2M760 678.5h3M766 676.5h2M768 675.5h1M772 673.5h2M774 672.5h1M778 671.5h1M779 670.5h2M784 669.5h1M785 668.5h2M790 666.5h3M796 664.5h3M802 663.5h1M803 662.5h2M808 661.5h1M809 660.5h2M814 659.5h1M815 658.5h2M820 657.5h3M826 656.5h3M832 656.5h1M833 655.5h2M838 655.5h3M844 655.5h3M850 654.5h3M856 654.5h3M862 654.5h3M868 654.5h3M874 653.5h3M880 653.5h3M886 653.5h3M892 652.5h3M898 651.5h3M904 651.5h3M910 651.5h3M916 650.5h3M922 650.5h3M928 650.5h3M934 650.5h3M940 650.5h3M946 650.5h3M952 650.5h3M958 650.5h3M964 651.5h3M970 651.5h3M976 651.5h3M982 651.5h3M988 652.5h3M994 652.5h3M1000 652.5h1M1001 653.5h2M1006 653.5h3M1012 654.5h3M1018 654.5h3M1024 654.5h3M1030 654.5h3M1036 654.5h3M1042 655.5h3M1048 655.5h3M1054 655.5h3M1060 655.5h3M1066 654.5h3M1072 654.5h3M1078 654.5h3M1084 653.5h3M1090 653.5h3M1096 653.5h1M1097 652.5h2M1102 652.5h3M1108 652.5h3M1114 651.5h3M1120 650.5h1M1121 649.5h2M1126 648.5h3M1132 647.5h3M1138 646.5h1M1139 645.5h2M1144 644.5h3M1150 643.5h3M1156 642.5h2M1158 641.5h1M1162 640.5h1M1163 639.5h2M1168 638.5h3M1174 637.5h3M1180 636.5h3M1186 635.5h3M1192 635.5h3M1198 635.5h3M1204 636.5h3M1210 637.5h3M1216 637.5h1M1217 638.5h2M1222 638.5h3M1228 639.5h2M1230 640.5h1M1234 641.5h1M1235 642.5h2M1240 642.5h1M1241 643.5h2M1246 643.5h3M1252 644.5h3M1258 645.5h1M1259 646.5h2" fill="none" stroke="#ff0000" stroke-width="1"/>
<rect x="1597" y="533" width="2" height="1" fill="#000"/>
<rect x="1597" y="625" width="2" height="1" fill="#000"/>
<rect x="1597" y="627" width="2" height="1" fill="#000"/>
<rect x="1597" y="664" width="2" height="1" fill="#000"/>
<rect x="1597" y="719" width="2" height="1" fill="#000"/>
<rect x="4" y="720" width="1" height="3" fill="#000"/>
<rect x="68" y="720" width="1" height="3" fill="#000"/>
<rect x="132" y="720" width="1" height="3" fill="#000"/>
<rect x="196" y="720" width="1" height="3" fill="#000"/>
<rect x="260" y="720" width="1" height="3" fill="#000"/>
<rect x="324" y="720" width="1" height="3" fill="#000"/>
<rect x="388" y="720" width="1" height="3" fill="#000"/>
<rect x="452" y="720" width="1" height="3" fill="#000"/>
<rect x="516" y="720" width="1" height="3" fill="#000"/>
<rect x="580" y="720" width="1" height="3" fill="#000"/>
<rect x="644" y="720" width="1" height="3" fill="#000"/>
<rect x="708" y="720" width="1" height="3" fill="#000"/>
<rect x="772" y="720" width="1" height="3" fill="#000"/>
<rect x="836" y="720" width="1" height="3" fill="#000"/>
<rect x="900" y="720" width="1" height="3" fill="#000"/>
<rect x="964" y="720" width="1" height="3" fill="#000"/>
<rect x="1028" y="720" width="1" height="3" fill="#000"/>
<rect x="1092" y="720" width="1" height="3" fill="#000"/>
<rect x="1156" y="720" width="1" height="3" fill="#000"/>
<rect x="1220" y="720" width="1" height="3" fill="#000"/>
</svg>
<svg style="position:absolute;left:6px;top:31px" width="10" height="7"><polygon points="0.9,1 8.2,1 4.55,5.1" fill="#000"/></svg>
<div class="t" style="left:19.5px;top:28.6px;transform:scaleX(1.004);">AUDUSD,Daily</div>
<div class="t" style="left:90.8px;top:28.6px;transform:scaleX(0.951);">0.69014 0.69339 0.69007 0.69216</div>
<div class="t" style="left:8.2px;top:537.5px;transform:scaleX(0.934);">RSI(14)</div>
<div class="t" style="left:43px;top:537.5px;transform:scaleX(0.930);">62.1364</div>
<div class="t" style="left:8.3px;top:632px;transform:scaleX(0.969);">MACD(12,26,9)</div>
<div class="t" style="left:77.7px;top:632px;transform:scaleX(0.933);">0.006232 0.008018</div>
<div class="t" style="left:1601.6px;top:28.6px;transform:scaleX(0.978);">0.71190</div>
<div class="t" style="left:1601.6px;top:127.6px;transform:scaleX(0.958);">0.67920</div>
<div class="t" style="left:1601.6px;top:193.6px;transform:scaleX(0.958);">0.65730</div>
<div class="t" style="left:1601.6px;top:226.6px;transform:scaleX(0.958);">0.64620</div>
<div class="t" style="left:1601.6px;top:259.6px;transform:scaleX(0.958);">0.63540</div>
<div class="t" style="left:1601.6px;top:292.6px;transform:scaleX(0.958);">0.62430</div>
<div class="t" style="left:1601.6px;top:325.6px;transform:scaleX(0.958);">0.61350</div>
<div class="t" style="left:1601.6px;top:358.6px;transform:scaleX(0.958);">0.60240</div>
<div class="t" style="left:1601.6px;top:391.6px;transform:scaleX(0.958);">0.59160</div>
<div class="t" style="left:1601.6px;top:424.6px;transform:scaleX(0.958);">0.58050</div>
<div class="t" style="left:1601.6px;top:457.6px;transform:scaleX(0.958);">0.56970</div>
<div class="t" style="left:1601.6px;top:490.6px;transform:scaleX(0.958);">0.55860</div>
<div class="t" style="left:1601.6px;top:523.6px;transform:scaleX(0.958);">0.54780</div>
<div class="lab" style="top:88px;background:#000"><span>0.69216</span></div>
<div class="lab" style="top:63px;background:#ff0000"><span>0.70007</span></div>
<div class="lab" style="top:94px;background:#ff0000"><span>0.69010</span></div>
<div class="lab" style="top:123px;background:#00ff00"><span>0.68017</span></div>
<div class="lab" style="top:162px;background:#0000ff"><span>0.66706</span></div>
<div class="lab" style="top:213px;background:#0000ff"><span>0.65020</span></div>
<div class="t" style="left:1600px;top:536px;transform:scaleX(0.960);">100</div>
<div class="t" style="left:1600px;top:556.5px;transform:scaleX(0.960);">70</div>
<div class="t" style="left:1600px;top:592.5px;transform:scaleX(0.960);">30</div>
<div class="t" style="left:1600px;top:613.5px;transform:scaleX(0.960);">0</div>
<div class="t" style="left:1600px;top:630px;transform:scaleX(0.960);">0.015741</div>
<div class="t" style="left:1600px;top:660px;transform:scaleX(0.960);">0.00</div>
<div class="t" style="left:1600px;top:708px;transform:scaleX(0.960);">-0.024412</div>
<div class="t" style="left:2.7px;top:723.8px;transform:scaleX(0.955);">23 Dec 2019</div>
<div class="t" style="left:66.7px;top:723.8px;transform:scaleX(0.955);">1 Jan 2020</div>
<div class="t" style="left:130.7px;top:723.8px;transform:scaleX(0.955);">10 Jan 2020</div>
<div class="t" style="left:194.7px;top:723.8px;transform:scaleX(0.955);">20 Jan 2020</div>
<div class="t" style="left:258.7px;top:723.8px;transform:scaleX(0.955);">29 Jan 2020</div>
<div class="t" style="left:322.7px;top:723.8px;transform:scaleX(0.955);">7 Feb 2020</div>
<div class="t" style="left:386.7px;top:723.8px;transform:scaleX(0.955);">17 Feb 2020</div>
<div class="t" style="left:450.7px;top:723.8px;transform:scaleX(0.955);">26 Feb 2020</div>
<div class="t" style="left:514.7px;top:723.8px;transform:scaleX(0.955);">6 Mar 2020</div>
<div class="t" style="left:578.7px;top:723.8px;transform:scaleX(0.955);">16 Mar 2020</div>
<div class="t" style="left:642.7px;top:723.8px;transform:scaleX(0.955);">25 Mar 2020</div>
<div class="t" style="left:706.7px;top:723.8px;transform:scaleX(0.955);">3 Apr 2020</div>
<div class="t" style="left:770.7px;top:723.8px;transform:scaleX(0.955);">13 Apr 2020</div>
<div class="t" style="left:834.7px;top:723.8px;transform:scaleX(0.955);">22 Apr 2020</div>
<div class="t" style="left:898.7px;top:723.8px;transform:scaleX(0.955);">1 May 2020</div>
<div class="t" style="left:962.7px;top:723.8px;transform:scaleX(0.955);">11 May 2020</div>
<div class="t" style="left:1026.7px;top:723.8px;transform:scaleX(0.955);">20 May 2020</div>
<div class="t" style="left:1090.7px;top:723.8px;transform:scaleX(0.955);">29 May 2020</div>
<div class="t" style="left:1154.7px;top:723.8px;transform:scaleX(0.955);">8 Jun 2020</div>
<div class="t" style="left:1218.7px;top:723.8px;transform:scaleX(0.955);">17 Jun 2020</div>
<div style="position:absolute;left:0;top:740px;width:1639px;height:2px;background:#f0f0f0"></div>
<div style="position:absolute;left:0;top:742px;width:1639px;height:20px;background:#f0f0f0"></div>
<div style="position:absolute;left:0;top:742px;width:1639px;height:1px;background:#000"></div>
<div style="position:absolute;left:0;top:743px;width:1px;height:18px;background:#555"></div>
<div style="position:absolute;left:0;top:765px;width:1639px;height:1px;background:#a0a0a0"></div>
<div style="position:absolute;left:0;top:766px;width:1639px;height:1px;background:#d0d0d0"></div>
<div style="position:absolute;left:209px;top:742px;width:104px;height:19px;background:#fff;border:1px solid #000;border-top:1px solid #fff"></div>
<div class="tab" style="left:16.8px;transform:scaleX(1.007)">EURUSD,Daily</div>
<div class="tab" style="left:118.8px;transform:scaleX(1.023)">USDCHF,Daily</div>
<div class="tab" style="left:323.3px;transform:scaleX(1.020)">USDCAD,Daily</div>
<div class="tab" style="left:426.6px;transform:scaleX(1.039)">USDCNH,Daily</div>
<div class="tab" style="left:532.6px;transform:scaleX(1.010)">EURUSD,Daily</div>
<div class="tab" style="left:636.3000000000001px;transform:scaleX(1.005)">GBPUSD,H4</div>
<div class="tab" style="left:727.6px;transform:scaleX(1.015)">XAUUSD,H1</div>
<div class="tab" style="left:820.1px;transform:scaleX(1.031)">HK50,H1</div>
<div class="tab" style="left:892.1px;transform:scaleX(1.038)">UK100,H1</div>
<div class="tab" style="left:972.1px;transform:scaleX(1.038)">UK100,H1</div>
<div class="tab" style="left:1052.1px;transform:scaleX(0.978)">GER30,H1</div>
<div class="tab" style="left:1130.6px;transform:scaleX(0.986)">FRA40,H1</div>
<div class="tab" style="left:1207.1px;transform:scaleX(1.026)">USOil,H4</div>
<div class="tab" style="left:1279.1999999999998px;transform:scaleX(0.979)">USDJPY,H1</div>
<div class="tab" style="left:1363.0px;transform:scaleX(1.029)">DJ30,Daily</div>
<div class="tab" style="left:219.6px;color:#000;-webkit-text-stroke:0.12px #000;transform:scaleX(1.035)">AUDUSD,Daily</div>
<div class="sep" style="left:109px"></div>
<div class="sep" style="left:417px"></div>
<div class="sep" style="left:521px"></div>
<div class="sep" style="left:625px"></div>
<div class="sep" style="left:717px"></div>
<div class="sep" style="left:809px"></div>
<div class="sep" style="left:881px"></div>
<div class="sep" style="left:961px"></div>
<div class="sep" style="left:1041px"></div>
<div class="sep" style="left:1121px"></div>
<div class="sep" style="left:1197px"></div>
<div class="sep" style="left:1269px"></div>
<div class="sep" style="left:1353px"></div>
<div class="sep" style="left:1433px"></div>
<svg style="position:absolute;left:1605px;top:744px" width="34" height="14"><polygon points="10.5,3.5 10.5,10.5 6.5,7" fill="#808080"/><polygon points="25.5,3.5 25.5,10.5 29.5,7" fill="#808080"/></svg>
<div style="position:absolute;left:419px;top:767px;width:1px;height:5px;background:#e4e4e4"></div>
<div style="position:absolute;left:549px;top:767px;width:1px;height:5px;background:#e4e4e4"></div>
<div style="position:absolute;left:694px;top:767px;width:1px;height:5px;background:#e4e4e4"></div>
<div style="position:absolute;left:839px;top:767px;width:1px;height:5px;background:#e4e4e4"></div>
<div style="position:absolute;left:984px;top:767px;width:1px;height:5px;background:#e4e4e4"></div>
<div style="position:absolute;left:1129px;top:767px;width:1px;height:5px;background:#e4e4e4"></div>
<div style="position:absolute;left:1274px;top:767px;width:1px;height:5px;background:#e4e4e4"></div>
<div style="position:absolute;left:1419px;top:767px;width:1px;height:5px;background:#e4e4e4"></div>
</body></html>
